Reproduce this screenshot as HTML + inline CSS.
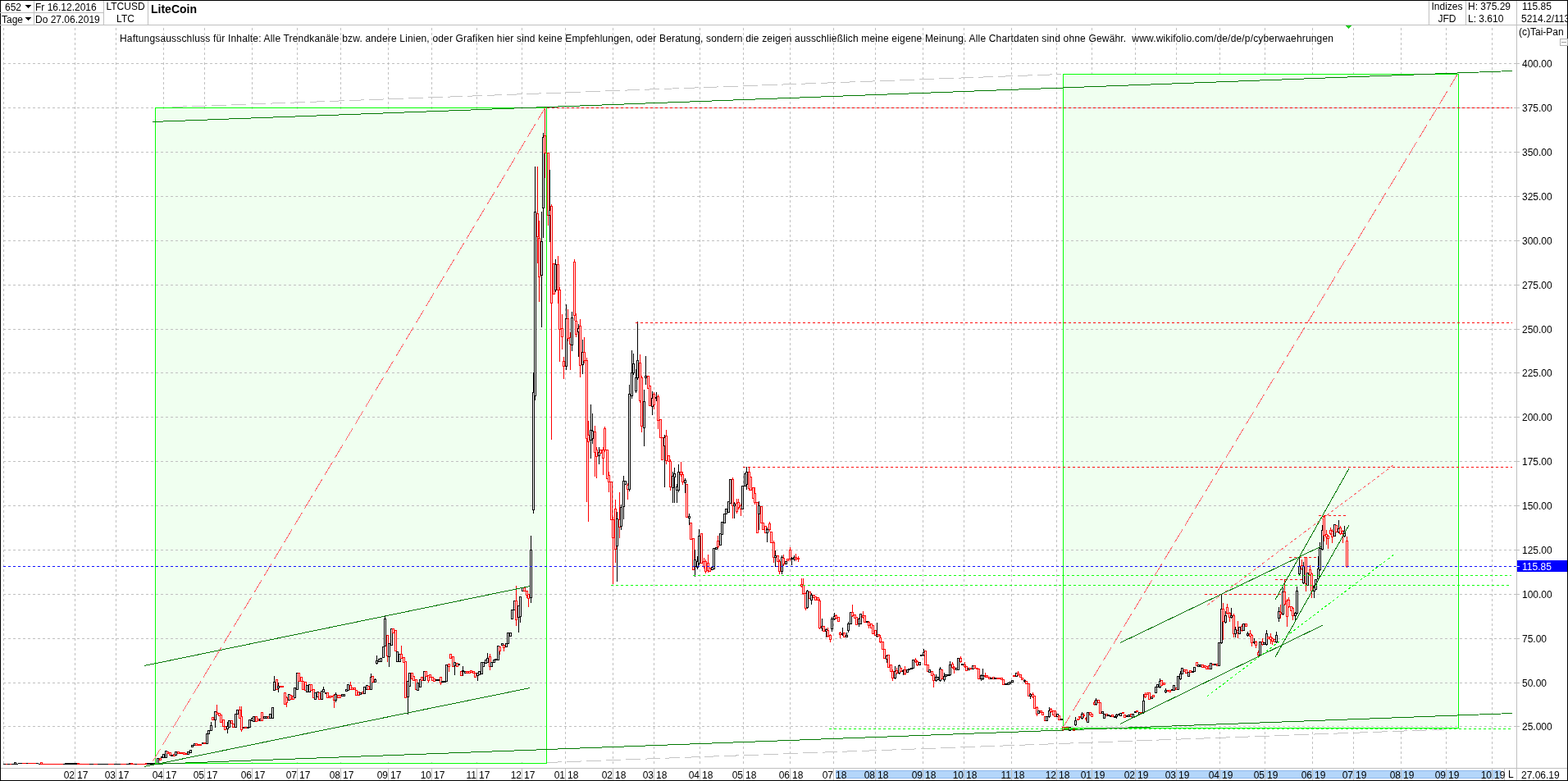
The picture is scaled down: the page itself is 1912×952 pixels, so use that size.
<!DOCTYPE html>
<html><head><meta charset="utf-8"><title>LiteCoin</title>
<style>html,body{margin:0;padding:0;background:#fff}#c{position:relative;width:1912px;height:952px;overflow:hidden;background:#fff}svg{position:absolute;left:0;top:0}text{font-family:"Liberation Sans", Arial, sans-serif}</style></head>
<body><div id="c"><svg width="1912" height="952" viewBox="0 0 1912 952">
<defs><clipPath id="hc"><rect x="1850" y="1" width="61" height="29"/></clipPath><clipPath id="chart"><rect x="1" y="31" width="1848" height="905"/></clipPath></defs>
<g clip-path="url(#chart)">
<g shape-rendering="crispEdges">
<line x1="4.5" y1="34" x2="4.5" y2="933" stroke="#c0c0c0" stroke-dasharray="3 3" stroke-dashoffset="0"/>
<line x1="91.5" y1="34" x2="91.5" y2="933" stroke="#c0c0c0" stroke-dasharray="3 3" stroke-dashoffset="0"/>
<line x1="141.5" y1="34" x2="141.5" y2="933" stroke="#c0c0c0" stroke-dasharray="3 3" stroke-dashoffset="0"/>
<line x1="199.5" y1="34" x2="199.5" y2="933" stroke="#c0c0c0" stroke-dasharray="3 3" stroke-dashoffset="0"/>
<line x1="249.5" y1="34" x2="249.5" y2="933" stroke="#c0c0c0" stroke-dasharray="3 3" stroke-dashoffset="0"/>
<line x1="307.5" y1="34" x2="307.5" y2="933" stroke="#c0c0c0" stroke-dasharray="3 3" stroke-dashoffset="0"/>
<line x1="362.5" y1="34" x2="362.5" y2="933" stroke="#c0c0c0" stroke-dasharray="3 3" stroke-dashoffset="0"/>
<line x1="415.5" y1="34" x2="415.5" y2="933" stroke="#c0c0c0" stroke-dasharray="3 3" stroke-dashoffset="0"/>
<line x1="473.5" y1="34" x2="473.5" y2="933" stroke="#c0c0c0" stroke-dasharray="3 3" stroke-dashoffset="0"/>
<line x1="526.5" y1="34" x2="526.5" y2="933" stroke="#c0c0c0" stroke-dasharray="3 3" stroke-dashoffset="0"/>
<line x1="581.5" y1="34" x2="581.5" y2="933" stroke="#c0c0c0" stroke-dasharray="3 3" stroke-dashoffset="0"/>
<line x1="636.5" y1="34" x2="636.5" y2="933" stroke="#c0c0c0" stroke-dasharray="3 3" stroke-dashoffset="0"/>
<line x1="689.5" y1="34" x2="689.5" y2="933" stroke="#c0c0c0" stroke-dasharray="3 3" stroke-dashoffset="0"/>
<line x1="747.5" y1="34" x2="747.5" y2="933" stroke="#c0c0c0" stroke-dasharray="3 3" stroke-dashoffset="0"/>
<line x1="797.5" y1="34" x2="797.5" y2="933" stroke="#c0c0c0" stroke-dasharray="3 3" stroke-dashoffset="0"/>
<line x1="853.5" y1="34" x2="853.5" y2="933" stroke="#c0c0c0" stroke-dasharray="3 3" stroke-dashoffset="0"/>
<line x1="906.5" y1="34" x2="906.5" y2="933" stroke="#c0c0c0" stroke-dasharray="3 3" stroke-dashoffset="0"/>
<line x1="963.5" y1="34" x2="963.5" y2="933" stroke="#c0c0c0" stroke-dasharray="3 3" stroke-dashoffset="0"/>
<line x1="1016.5" y1="34" x2="1016.5" y2="933" stroke="#c0c0c0" stroke-dasharray="3 3" stroke-dashoffset="0"/>
<line x1="1067.5" y1="34" x2="1067.5" y2="933" stroke="#c0c0c0" stroke-dasharray="3 3" stroke-dashoffset="0"/>
<line x1="1125.5" y1="34" x2="1125.5" y2="933" stroke="#c0c0c0" stroke-dasharray="3 3" stroke-dashoffset="0"/>
<line x1="1175.5" y1="34" x2="1175.5" y2="933" stroke="#c0c0c0" stroke-dasharray="3 3" stroke-dashoffset="0"/>
<line x1="1233.5" y1="34" x2="1233.5" y2="933" stroke="#c0c0c0" stroke-dasharray="3 3" stroke-dashoffset="0"/>
<line x1="1288.5" y1="34" x2="1288.5" y2="933" stroke="#c0c0c0" stroke-dasharray="3 3" stroke-dashoffset="0"/>
<line x1="1331.5" y1="34" x2="1331.5" y2="933" stroke="#c0c0c0" stroke-dasharray="3 3" stroke-dashoffset="0"/>
<line x1="1384.5" y1="34" x2="1384.5" y2="933" stroke="#c0c0c0" stroke-dasharray="3 3" stroke-dashoffset="0"/>
<line x1="1434.5" y1="34" x2="1434.5" y2="933" stroke="#c0c0c0" stroke-dasharray="3 3" stroke-dashoffset="0"/>
<line x1="1487.5" y1="34" x2="1487.5" y2="933" stroke="#c0c0c0" stroke-dasharray="3 3" stroke-dashoffset="0"/>
<line x1="1542.5" y1="34" x2="1542.5" y2="933" stroke="#c0c0c0" stroke-dasharray="3 3" stroke-dashoffset="0"/>
<line x1="1600.5" y1="34" x2="1600.5" y2="933" stroke="#c0c0c0" stroke-dasharray="3 3" stroke-dashoffset="0"/>
<line x1="1650.5" y1="34" x2="1650.5" y2="933" stroke="#c0c0c0" stroke-dasharray="3 3" stroke-dashoffset="0"/>
<line x1="1708.5" y1="34" x2="1708.5" y2="933" stroke="#c0c0c0" stroke-dasharray="3 3" stroke-dashoffset="0"/>
<line x1="1763.5" y1="34" x2="1763.5" y2="933" stroke="#c0c0c0" stroke-dasharray="3 3" stroke-dashoffset="0"/>
<line x1="1819.5" y1="34" x2="1819.5" y2="933" stroke="#c0c0c0" stroke-dasharray="3 3" stroke-dashoffset="0"/>
<rect x="191" y="133" width="474" height="796" fill="#f0fff0"/>
<rect x="1298" y="92" width="479" height="794" fill="#f0fff0"/>
<line x1="4" y1="77.5" x2="1849" y2="77.5" stroke="#c0c0c0" stroke-dasharray="3 3" stroke-dashoffset="0"/>
<line x1="4" y1="131.5" x2="1849" y2="131.5" stroke="#c0c0c0" stroke-dasharray="3 3" stroke-dashoffset="0"/>
<line x1="4" y1="185.5" x2="1849" y2="185.5" stroke="#c0c0c0" stroke-dasharray="3 3" stroke-dashoffset="0"/>
<line x1="4" y1="239.5" x2="1849" y2="239.5" stroke="#c0c0c0" stroke-dasharray="3 3" stroke-dashoffset="0"/>
<line x1="4" y1="293.5" x2="1849" y2="293.5" stroke="#c0c0c0" stroke-dasharray="3 3" stroke-dashoffset="0"/>
<line x1="4" y1="347.5" x2="1849" y2="347.5" stroke="#c0c0c0" stroke-dasharray="3 3" stroke-dashoffset="0"/>
<line x1="4" y1="401.5" x2="1849" y2="401.5" stroke="#c0c0c0" stroke-dasharray="3 3" stroke-dashoffset="0"/>
<line x1="4" y1="454.5" x2="1849" y2="454.5" stroke="#c0c0c0" stroke-dasharray="3 3" stroke-dashoffset="0"/>
<line x1="4" y1="508.5" x2="1849" y2="508.5" stroke="#c0c0c0" stroke-dasharray="3 3" stroke-dashoffset="0"/>
<line x1="4" y1="562.5" x2="1849" y2="562.5" stroke="#c0c0c0" stroke-dasharray="3 3" stroke-dashoffset="0"/>
<line x1="4" y1="616.5" x2="1849" y2="616.5" stroke="#c0c0c0" stroke-dasharray="3 3" stroke-dashoffset="0"/>
<line x1="4" y1="670.5" x2="1849" y2="670.5" stroke="#c0c0c0" stroke-dasharray="3 3" stroke-dashoffset="0"/>
<line x1="4" y1="724.5" x2="1849" y2="724.5" stroke="#c0c0c0" stroke-dasharray="3 3" stroke-dashoffset="0"/>
<line x1="4" y1="778.5" x2="1849" y2="778.5" stroke="#c0c0c0" stroke-dasharray="3 3" stroke-dashoffset="0"/>
<line x1="4" y1="832.5" x2="1849" y2="832.5" stroke="#c0c0c0" stroke-dasharray="3 3" stroke-dashoffset="0"/>
<line x1="4" y1="885.5" x2="1849" y2="885.5" stroke="#c0c0c0" stroke-dasharray="3 3" stroke-dashoffset="0"/>
</g>
<g shape-rendering="crispEdges" fill="#fff">
<line x1="4" y1="931.5" x2="7" y2="931.5" stroke="#000"/>
<line x1="7" y1="931.5" x2="10" y2="931.5" stroke="#f00"/>
<line x1="9" y1="931.5" x2="12" y2="931.5" stroke="#000"/>
<line x1="12" y1="931.5" x2="15" y2="931.5" stroke="#f00"/>
<line x1="14" y1="931.5" x2="17" y2="931.5" stroke="#000"/>
<rect x="17.5" y="929.5" width="2" height="2" stroke="#000"/>
<line x1="19" y1="931.5" x2="22" y2="931.5" stroke="#000"/>
<line x1="22" y1="930.5" x2="25" y2="930.5" stroke="#000"/>
<line x1="24" y1="930.5" x2="27" y2="930.5" stroke="#000"/>
<line x1="27" y1="930.5" x2="30" y2="930.5" stroke="#f00"/>
<line x1="29" y1="930.5" x2="32" y2="930.5" stroke="#f00"/>
<line x1="32" y1="930.5" x2="35" y2="930.5" stroke="#000"/>
<line x1="34" y1="930.5" x2="37" y2="930.5" stroke="#f00"/>
<line x1="37" y1="930.5" x2="40" y2="930.5" stroke="#f00"/>
<line x1="39" y1="930.5" x2="42" y2="930.5" stroke="#f00"/>
<line x1="42" y1="930.5" x2="45" y2="930.5" stroke="#f00"/>
<line x1="44" y1="930.5" x2="47" y2="930.5" stroke="#000"/>
<line x1="47" y1="931.5" x2="50" y2="931.5" stroke="#000"/>
<rect x="49.5" y="929.5" width="2" height="2" stroke="#f00"/>
<line x1="52" y1="931.5" x2="55" y2="931.5" stroke="#f00"/>
<line x1="54" y1="931.5" x2="57" y2="931.5" stroke="#f00"/>
<line x1="57" y1="931.5" x2="60" y2="931.5" stroke="#f00"/>
<line x1="59" y1="931.5" x2="62" y2="931.5" stroke="#f00"/>
<line x1="62" y1="931.5" x2="65" y2="931.5" stroke="#f00"/>
<line x1="64" y1="931.5" x2="67" y2="931.5" stroke="#f00"/>
<line x1="67" y1="931.5" x2="70" y2="931.5" stroke="#f00"/>
<line x1="69" y1="931.5" x2="72" y2="931.5" stroke="#f00"/>
<line x1="72" y1="931.5" x2="75" y2="931.5" stroke="#f00"/>
<line x1="74" y1="931.5" x2="77" y2="931.5" stroke="#f00"/>
<line x1="77" y1="931.5" x2="80" y2="931.5" stroke="#000"/>
<rect x="79.5" y="930.5" width="2" height="1" stroke="#000"/>
<rect x="82.5" y="930.5" width="2" height="1" stroke="#000"/>
<rect x="84.5" y="930.5" width="2" height="1" stroke="#000"/>
<rect x="87.5" y="930.5" width="2" height="1" stroke="#000"/>
<rect x="89.5" y="930.5" width="2" height="1" stroke="#000"/>
<rect x="92.5" y="930.5" width="2" height="1" stroke="#000"/>
<rect x="94.5" y="930.5" width="2" height="1" stroke="#f00"/>
<line x1="97" y1="931.5" x2="100" y2="931.5" stroke="#f00"/>
<line x1="99" y1="931.5" x2="102" y2="931.5" stroke="#f00"/>
<line x1="102" y1="931.5" x2="105" y2="931.5" stroke="#f00"/>
<line x1="104" y1="931.5" x2="107" y2="931.5" stroke="#f00"/>
<line x1="107" y1="931.5" x2="110" y2="931.5" stroke="#f00"/>
<line x1="109" y1="931.5" x2="112" y2="931.5" stroke="#000"/>
<line x1="112" y1="931.5" x2="115" y2="931.5" stroke="#000"/>
<line x1="114" y1="931.5" x2="117" y2="931.5" stroke="#f00"/>
<line x1="117" y1="931.5" x2="120" y2="931.5" stroke="#f00"/>
<line x1="119" y1="931.5" x2="122" y2="931.5" stroke="#000"/>
<line x1="122" y1="931.5" x2="125" y2="931.5" stroke="#000"/>
<line x1="124" y1="931.5" x2="127" y2="931.5" stroke="#000"/>
<line x1="127" y1="931.5" x2="130" y2="931.5" stroke="#000"/>
<line x1="129" y1="931.5" x2="132" y2="931.5" stroke="#000"/>
<line x1="132" y1="931.5" x2="135" y2="931.5" stroke="#f00"/>
<line x1="134" y1="931.5" x2="137" y2="931.5" stroke="#f00"/>
<line x1="137" y1="931.5" x2="140" y2="931.5" stroke="#f00"/>
<line x1="139" y1="931.5" x2="142" y2="931.5" stroke="#000"/>
<line x1="142" y1="931.5" x2="145" y2="931.5" stroke="#000"/>
<line x1="144" y1="931.5" x2="147" y2="931.5" stroke="#000"/>
<line x1="147" y1="931.5" x2="150" y2="931.5" stroke="#f00"/>
<line x1="149" y1="931.5" x2="152" y2="931.5" stroke="#f00"/>
<line x1="152" y1="931.5" x2="155" y2="931.5" stroke="#f00"/>
<line x1="154" y1="931.5" x2="157" y2="931.5" stroke="#000"/>
<rect x="157.5" y="930.5" width="2" height="1" stroke="#000"/>
<rect x="159.5" y="930.5" width="2" height="1" stroke="#f00"/>
<line x1="162" y1="931.5" x2="165" y2="931.5" stroke="#f00"/>
<line x1="164" y1="931.5" x2="167" y2="931.5" stroke="#000"/>
<line x1="167" y1="931.5" x2="170" y2="931.5" stroke="#f00"/>
<line x1="169" y1="931.5" x2="172" y2="931.5" stroke="#f00"/>
<line x1="172" y1="931.5" x2="175" y2="931.5" stroke="#f00"/>
<line x1="174" y1="931.5" x2="177" y2="931.5" stroke="#f00"/>
<rect x="177.5" y="930.5" width="2" height="1" stroke="#f00"/>
<rect x="179.5" y="930.5" width="2" height="1" stroke="#000"/>
<rect x="182.5" y="930.5" width="2" height="1" stroke="#000"/>
<rect x="184.5" y="930.5" width="2" height="1" stroke="#000"/>
<rect x="187.5" y="930.5" width="2" height="1" stroke="#000"/>
<rect x="191.5" y="924.5" width="2" height="6" stroke="#000"/>
<rect x="194.5" y="924.5" width="2" height="2" stroke="#f00"/>
<rect x="196.5" y="922.5" width="2" height="1" stroke="#000"/>
<rect x="198.5" y="919.5" width="2" height="4" stroke="#000"/>
<rect x="201.5" y="915.5" width="2" height="8" stroke="#000"/>
<rect x="203.5" y="916.5" width="2" height="2" stroke="#f00"/>
<rect x="206.5" y="917.5" width="2" height="3" stroke="#f00"/>
<rect x="208.5" y="920.5" width="2" height="1" stroke="#000"/>
<rect x="211.5" y="919.5" width="2" height="2" stroke="#f00"/>
<rect x="213.5" y="916.5" width="2" height="4" stroke="#000"/>
<rect x="216.5" y="916.5" width="2" height="2" stroke="#f00"/>
<rect x="218.5" y="917.5" width="2" height="1" stroke="#f00"/>
<rect x="221.5" y="917.5" width="2" height="1" stroke="#f00"/>
<rect x="223.5" y="917.5" width="2" height="2" stroke="#f00"/>
<rect x="226.5" y="918.5" width="2" height="1" stroke="#f00"/>
<rect x="228.5" y="916.5" width="2" height="3" stroke="#000"/>
<rect x="231.5" y="914.5" width="2" height="3" stroke="#000"/>
<rect x="233.5" y="908.5" width="2" height="2" stroke="#000"/>
<rect x="236.5" y="906.5" width="2" height="2" stroke="#000"/>
<rect x="238.5" y="906.5" width="2" height="2" stroke="#f00"/>
<rect x="241.5" y="907.5" width="2" height="1" stroke="#f00"/>
<rect x="243.5" y="907.5" width="2" height="1" stroke="#f00"/>
<rect x="246.5" y="905.5" width="2" height="1" stroke="#000"/>
<rect x="248.5" y="905.5" width="2" height="1" stroke="#f00"/>
<rect x="251.5" y="894.5" width="2" height="12" stroke="#000"/>
<rect x="253.5" y="890.5" width="2" height="4" stroke="#000"/>
<line x1="257.5" y1="880" x2="257.5" y2="884" stroke="#000"/>
<rect x="256.5" y="884.5" width="2" height="6" stroke="#000"/>
<rect x="258.5" y="874.5" width="2" height="3" stroke="#f00"/>
<line x1="262.5" y1="878" x2="262.5" y2="887" stroke="#000"/>
<rect x="261.5" y="867.5" width="2" height="10" stroke="#000"/>
<line x1="264.5" y1="859" x2="264.5" y2="868" stroke="#f00"/>
<rect x="263.5" y="868.5" width="2" height="2" stroke="#f00"/>
<rect x="266.5" y="869.5" width="2" height="3" stroke="#f00"/>
<rect x="268.5" y="871.5" width="2" height="9" stroke="#f00"/>
<rect x="271.5" y="877.5" width="2" height="8" stroke="#f00"/>
<rect x="273.5" y="885.5" width="2" height="4" stroke="#f00"/>
<line x1="277.5" y1="880" x2="277.5" y2="885" stroke="#000"/>
<line x1="277.5" y1="889" x2="277.5" y2="894" stroke="#000"/>
<rect x="276.5" y="885.5" width="2" height="3" stroke="#000"/>
<rect x="278.5" y="878.5" width="2" height="8" stroke="#000"/>
<rect x="281.5" y="878.5" width="2" height="3" stroke="#f00"/>
<rect x="283.5" y="882.5" width="2" height="4" stroke="#f00"/>
<rect x="286.5" y="870.5" width="2" height="16" stroke="#000"/>
<rect x="288.5" y="865.5" width="2" height="5" stroke="#000"/>
<line x1="292.5" y1="861" x2="292.5" y2="865" stroke="#f00"/>
<rect x="291.5" y="865.5" width="2" height="10" stroke="#f00"/>
<line x1="294.5" y1="861" x2="294.5" y2="873" stroke="#f00"/>
<line x1="294.5" y1="890" x2="294.5" y2="892" stroke="#f00"/>
<rect x="293.5" y="873.5" width="2" height="16" stroke="#f00"/>
<rect x="296.5" y="886.5" width="2" height="1" stroke="#000"/>
<rect x="298.5" y="886.5" width="2" height="1" stroke="#f00"/>
<rect x="301.5" y="886.5" width="2" height="1" stroke="#000"/>
<rect x="303.5" y="877.5" width="2" height="9" stroke="#000"/>
<rect x="306.5" y="875.5" width="2" height="3" stroke="#000"/>
<rect x="308.5" y="873.5" width="2" height="6" stroke="#000"/>
<rect x="311.5" y="873.5" width="2" height="6" stroke="#f00"/>
<rect x="313.5" y="876.5" width="2" height="2" stroke="#f00"/>
<rect x="316.5" y="876.5" width="2" height="2" stroke="#000"/>
<rect x="318.5" y="868.5" width="2" height="10" stroke="#f00"/>
<rect x="321.5" y="873.5" width="2" height="2" stroke="#000"/>
<rect x="323.5" y="873.5" width="2" height="2" stroke="#000"/>
<rect x="326.5" y="873.5" width="2" height="2" stroke="#f00"/>
<rect x="328.5" y="870.5" width="2" height="5" stroke="#000"/>
<rect x="331.5" y="862.5" width="2" height="13" stroke="#000"/>
<line x1="334.5" y1="824" x2="334.5" y2="831" stroke="#000"/>
<rect x="333.5" y="831.5" width="2" height="10" stroke="#000"/>
<rect x="336.5" y="828.5" width="2" height="12" stroke="#f00"/>
<line x1="339.5" y1="832" x2="339.5" y2="836" stroke="#000"/>
<line x1="339.5" y1="839" x2="339.5" y2="844" stroke="#000"/>
<rect x="338.5" y="836.5" width="2" height="2" stroke="#000"/>
<rect x="341.5" y="836.5" width="2" height="1" stroke="#f00"/>
<rect x="343.5" y="836.5" width="2" height="1" stroke="#f00"/>
<rect x="346.5" y="844.5" width="2" height="14" stroke="#f00"/>
<line x1="349.5" y1="849" x2="349.5" y2="850" stroke="#f00"/>
<line x1="349.5" y1="857" x2="349.5" y2="862" stroke="#f00"/>
<rect x="348.5" y="850.5" width="2" height="6" stroke="#f00"/>
<rect x="351.5" y="846.5" width="2" height="7" stroke="#000"/>
<rect x="353.5" y="847.5" width="2" height="5" stroke="#f00"/>
<rect x="356.5" y="848.5" width="2" height="4" stroke="#f00"/>
<rect x="358.5" y="838.5" width="2" height="12" stroke="#000"/>
<rect x="361.5" y="820.5" width="2" height="20" stroke="#000"/>
<rect x="363.5" y="820.5" width="2" height="10" stroke="#f00"/>
<rect x="366.5" y="825.5" width="2" height="5" stroke="#f00"/>
<rect x="368.5" y="830.5" width="2" height="10" stroke="#f00"/>
<rect x="371.5" y="831.5" width="2" height="10" stroke="#f00"/>
<rect x="373.5" y="835.5" width="2" height="8" stroke="#000"/>
<rect x="376.5" y="834.5" width="2" height="9" stroke="#000"/>
<rect x="378.5" y="834.5" width="2" height="7" stroke="#f00"/>
<rect x="381.5" y="840.5" width="2" height="10" stroke="#f00"/>
<rect x="383.5" y="844.5" width="2" height="8" stroke="#000"/>
<rect x="386.5" y="843.5" width="2" height="6" stroke="#000"/>
<rect x="388.5" y="844.5" width="2" height="8" stroke="#f00"/>
<rect x="391.5" y="842.5" width="2" height="10" stroke="#000"/>
<line x1="394.5" y1="837" x2="394.5" y2="840" stroke="#000"/>
<rect x="393.5" y="840.5" width="2" height="3" stroke="#000"/>
<rect x="396.5" y="844.5" width="2" height="1" stroke="#000"/>
<rect x="398.5" y="844.5" width="2" height="6" stroke="#f00"/>
<rect x="401.5" y="848.5" width="2" height="2" stroke="#f00"/>
<rect x="403.5" y="848.5" width="2" height="1" stroke="#f00"/>
<line x1="407.5" y1="846" x2="407.5" y2="847" stroke="#f00"/>
<line x1="407.5" y1="854" x2="407.5" y2="863" stroke="#f00"/>
<rect x="406.5" y="847.5" width="2" height="6" stroke="#f00"/>
<line x1="409.5" y1="844" x2="409.5" y2="846" stroke="#000"/>
<line x1="409.5" y1="854" x2="409.5" y2="856" stroke="#000"/>
<rect x="408.5" y="846.5" width="2" height="7" stroke="#000"/>
<rect x="411.5" y="847.5" width="2" height="3" stroke="#f00"/>
<rect x="413.5" y="847.5" width="2" height="3" stroke="#f00"/>
<rect x="416.5" y="846.5" width="2" height="2" stroke="#000"/>
<rect x="418.5" y="846.5" width="2" height="2" stroke="#000"/>
<rect x="421.5" y="840.5" width="2" height="2" stroke="#000"/>
<rect x="423.5" y="834.5" width="2" height="7" stroke="#000"/>
<line x1="427.5" y1="831" x2="427.5" y2="835" stroke="#f00"/>
<rect x="426.5" y="835.5" width="2" height="5" stroke="#f00"/>
<rect x="428.5" y="838.5" width="2" height="2" stroke="#f00"/>
<rect x="431.5" y="838.5" width="2" height="2" stroke="#f00"/>
<rect x="433.5" y="841.5" width="2" height="6" stroke="#f00"/>
<rect x="436.5" y="843.5" width="2" height="4" stroke="#f00"/>
<rect x="438.5" y="844.5" width="2" height="2" stroke="#000"/>
<rect x="441.5" y="843.5" width="2" height="2" stroke="#f00"/>
<rect x="443.5" y="837.5" width="2" height="8" stroke="#000"/>
<rect x="446.5" y="835.5" width="2" height="5" stroke="#000"/>
<rect x="448.5" y="836.5" width="2" height="4" stroke="#f00"/>
<line x1="452.5" y1="821" x2="452.5" y2="825" stroke="#000"/>
<rect x="451.5" y="825.5" width="2" height="15" stroke="#000"/>
<rect x="453.5" y="824.5" width="2" height="7" stroke="#f00"/>
<line x1="457.5" y1="827" x2="457.5" y2="828" stroke="#000"/>
<rect x="456.5" y="828.5" width="2" height="3" stroke="#000"/>
<line x1="459.5" y1="799" x2="459.5" y2="805" stroke="#000"/>
<line x1="459.5" y1="809" x2="459.5" y2="810" stroke="#000"/>
<rect x="458.5" y="805.5" width="2" height="3" stroke="#000"/>
<rect x="461.5" y="803.5" width="2" height="3" stroke="#000"/>
<rect x="463.5" y="802.5" width="2" height="4" stroke="#000"/>
<rect x="466.5" y="788.5" width="2" height="13" stroke="#000"/>
<line x1="469.5" y1="750" x2="469.5" y2="754" stroke="#000"/>
<rect x="468.5" y="754.5" width="2" height="33" stroke="#000"/>
<line x1="472.5" y1="800" x2="472.5" y2="807" stroke="#f00"/>
<rect x="471.5" y="774.5" width="2" height="25" stroke="#f00"/>
<line x1="474.5" y1="801" x2="474.5" y2="813" stroke="#000"/>
<rect x="473.5" y="784.5" width="2" height="16" stroke="#000"/>
<rect x="476.5" y="766.5" width="2" height="20" stroke="#000"/>
<rect x="478.5" y="766.5" width="2" height="5" stroke="#f00"/>
<rect x="481.5" y="768.5" width="2" height="25" stroke="#f00"/>
<rect x="483.5" y="794.5" width="2" height="12" stroke="#000"/>
<rect x="486.5" y="797.5" width="2" height="9" stroke="#000"/>
<line x1="489.5" y1="787" x2="489.5" y2="797" stroke="#f00"/>
<rect x="488.5" y="797.5" width="2" height="5" stroke="#f00"/>
<rect x="491.5" y="801.5" width="2" height="6" stroke="#f00"/>
<rect x="493.5" y="806.5" width="2" height="44" stroke="#f00"/>
<line x1="497.5" y1="850" x2="497.5" y2="871" stroke="#000"/>
<rect x="496.5" y="830.5" width="2" height="19" stroke="#000"/>
<rect x="498.5" y="820.5" width="2" height="16" stroke="#000"/>
<rect x="501.5" y="820.5" width="2" height="7" stroke="#f00"/>
<rect x="503.5" y="824.5" width="2" height="5" stroke="#f00"/>
<rect x="506.5" y="828.5" width="2" height="12" stroke="#f00"/>
<rect x="508.5" y="832.5" width="2" height="9" stroke="#000"/>
<rect x="511.5" y="828.5" width="2" height="9" stroke="#000"/>
<rect x="513.5" y="825.5" width="2" height="4" stroke="#f00"/>
<rect x="516.5" y="818.5" width="2" height="11" stroke="#000"/>
<rect x="518.5" y="818.5" width="2" height="6" stroke="#f00"/>
<line x1="522.5" y1="830" x2="522.5" y2="832" stroke="#f00"/>
<rect x="521.5" y="823.5" width="2" height="6" stroke="#f00"/>
<rect x="523.5" y="822.5" width="2" height="3" stroke="#f00"/>
<rect x="526.5" y="825.5" width="2" height="4" stroke="#f00"/>
<rect x="528.5" y="827.5" width="2" height="3" stroke="#f00"/>
<rect x="531.5" y="828.5" width="2" height="1" stroke="#000"/>
<rect x="533.5" y="828.5" width="2" height="1" stroke="#000"/>
<line x1="537.5" y1="833" x2="537.5" y2="835" stroke="#f00"/>
<rect x="536.5" y="825.5" width="2" height="7" stroke="#f00"/>
<rect x="538.5" y="830.5" width="2" height="1" stroke="#000"/>
<rect x="541.5" y="830.5" width="2" height="1" stroke="#000"/>
<rect x="543.5" y="810.5" width="2" height="20" stroke="#000"/>
<line x1="547.5" y1="813" x2="547.5" y2="819" stroke="#f00"/>
<rect x="546.5" y="809.5" width="2" height="3" stroke="#f00"/>
<rect x="548.5" y="797.5" width="2" height="5" stroke="#f00"/>
<rect x="551.5" y="800.5" width="2" height="12" stroke="#f00"/>
<line x1="554.5" y1="812" x2="554.5" y2="823" stroke="#000"/>
<rect x="553.5" y="807.5" width="2" height="4" stroke="#000"/>
<rect x="556.5" y="808.5" width="2" height="4" stroke="#f00"/>
<rect x="558.5" y="809.5" width="2" height="1" stroke="#000"/>
<rect x="561.5" y="818.5" width="2" height="5" stroke="#f00"/>
<line x1="564.5" y1="812" x2="564.5" y2="817" stroke="#000"/>
<line x1="564.5" y1="819" x2="564.5" y2="824" stroke="#000"/>
<rect x="563.5" y="817.5" width="2" height="1" stroke="#000"/>
<rect x="566.5" y="818.5" width="2" height="2" stroke="#000"/>
<rect x="568.5" y="818.5" width="2" height="2" stroke="#f00"/>
<rect x="571.5" y="818.5" width="2" height="2" stroke="#f00"/>
<rect x="573.5" y="817.5" width="2" height="2" stroke="#f00"/>
<rect x="576.5" y="818.5" width="2" height="2" stroke="#f00"/>
<rect x="578.5" y="820.5" width="2" height="5" stroke="#f00"/>
<line x1="582.5" y1="824" x2="582.5" y2="830" stroke="#000"/>
<rect x="581.5" y="820.5" width="2" height="3" stroke="#000"/>
<rect x="583.5" y="818.5" width="2" height="4" stroke="#000"/>
<rect x="586.5" y="807.5" width="2" height="14" stroke="#000"/>
<rect x="588.5" y="807.5" width="2" height="5" stroke="#000"/>
<rect x="591.5" y="804.5" width="2" height="4" stroke="#000"/>
<line x1="594.5" y1="796" x2="594.5" y2="802" stroke="#000"/>
<rect x="593.5" y="802.5" width="2" height="5" stroke="#000"/>
<line x1="597.5" y1="797" x2="597.5" y2="800" stroke="#f00"/>
<line x1="597.5" y1="813" x2="597.5" y2="817" stroke="#f00"/>
<rect x="596.5" y="800.5" width="2" height="12" stroke="#f00"/>
<rect x="598.5" y="807.5" width="2" height="5" stroke="#000"/>
<rect x="601.5" y="804.5" width="2" height="3" stroke="#000"/>
<rect x="603.5" y="803.5" width="2" height="1" stroke="#000"/>
<rect x="606.5" y="787.5" width="2" height="17" stroke="#000"/>
<line x1="609.5" y1="794" x2="609.5" y2="798" stroke="#f00"/>
<rect x="608.5" y="788.5" width="2" height="5" stroke="#f00"/>
<rect x="611.5" y="784.5" width="2" height="2" stroke="#000"/>
<line x1="614.5" y1="790" x2="614.5" y2="794" stroke="#f00"/>
<rect x="613.5" y="786.5" width="2" height="3" stroke="#f00"/>
<rect x="616.5" y="784.5" width="2" height="4" stroke="#000"/>
<rect x="618.5" y="771.5" width="2" height="13" stroke="#000"/>
<rect x="621.5" y="771.5" width="2" height="4" stroke="#000"/>
<rect x="623.5" y="743.5" width="2" height="11" stroke="#000"/>
<rect x="626.5" y="732.5" width="2" height="11" stroke="#000"/>
<line x1="629.5" y1="714" x2="629.5" y2="732" stroke="#f00"/>
<line x1="629.5" y1="756" x2="629.5" y2="763" stroke="#f00"/>
<rect x="628.5" y="732.5" width="2" height="23" stroke="#f00"/>
<line x1="632.5" y1="753" x2="632.5" y2="771" stroke="#000"/>
<rect x="631.5" y="738.5" width="2" height="14" stroke="#000"/>
<line x1="634.5" y1="752" x2="634.5" y2="759" stroke="#000"/>
<rect x="633.5" y="727.5" width="2" height="24" stroke="#000"/>
<rect x="636.5" y="716.5" width="2" height="4" stroke="#000"/>
<rect x="638.5" y="716.5" width="2" height="4" stroke="#f00"/>
<line x1="642.5" y1="726" x2="642.5" y2="729" stroke="#f00"/>
<rect x="641.5" y="720.5" width="2" height="5" stroke="#f00"/>
<line x1="644.5" y1="730" x2="644.5" y2="740" stroke="#f00"/>
<rect x="643.5" y="724.5" width="2" height="5" stroke="#f00"/>
<line x1="647.5" y1="653" x2="647.5" y2="670" stroke="#000"/>
<line x1="647.5" y1="729" x2="647.5" y2="735" stroke="#000"/>
<rect x="646.5" y="670.5" width="2" height="58" stroke="#000"/>
<line x1="650.5" y1="454" x2="650.5" y2="478" stroke="#000"/>
<line x1="650.5" y1="622" x2="650.5" y2="626" stroke="#000"/>
<rect x="649.5" y="478.5" width="2" height="143" stroke="#000"/>
<line x1="652.5" y1="203" x2="652.5" y2="258" stroke="#000"/>
<line x1="652.5" y1="483" x2="652.5" y2="488" stroke="#000"/>
<rect x="651.5" y="258.5" width="2" height="224" stroke="#000"/>
<line x1="655.5" y1="203" x2="655.5" y2="260" stroke="#f00"/>
<line x1="655.5" y1="289" x2="655.5" y2="321" stroke="#f00"/>
<rect x="654.5" y="260.5" width="2" height="28" stroke="#f00"/>
<line x1="657.5" y1="269" x2="657.5" y2="290" stroke="#f00"/>
<line x1="657.5" y1="338" x2="657.5" y2="368" stroke="#f00"/>
<rect x="656.5" y="290.5" width="2" height="47" stroke="#f00"/>
<line x1="660.5" y1="258" x2="660.5" y2="294" stroke="#000"/>
<line x1="660.5" y1="336" x2="660.5" y2="399" stroke="#000"/>
<rect x="659.5" y="294.5" width="2" height="41" stroke="#000"/>
<line x1="662.5" y1="162" x2="662.5" y2="167" stroke="#000"/>
<line x1="662.5" y1="254" x2="662.5" y2="290" stroke="#000"/>
<rect x="661.5" y="167.5" width="2" height="86" stroke="#000"/>
<line x1="664.5" y1="131" x2="664.5" y2="165" stroke="#f00"/>
<line x1="664.5" y1="187" x2="664.5" y2="217" stroke="#f00"/>
<rect x="663.5" y="165.5" width="2" height="21" stroke="#f00"/>
<line x1="668.5" y1="263" x2="668.5" y2="275" stroke="#f00"/>
<rect x="667.5" y="186.5" width="2" height="76" stroke="#f00"/>
<line x1="670.5" y1="207" x2="670.5" y2="256" stroke="#000"/>
<line x1="670.5" y1="263" x2="670.5" y2="295" stroke="#000"/>
<rect x="669.5" y="256.5" width="2" height="6" stroke="#000"/>
<line x1="672.5" y1="249" x2="672.5" y2="251" stroke="#f00"/>
<line x1="672.5" y1="370" x2="672.5" y2="536" stroke="#f00"/>
<rect x="671.5" y="251.5" width="2" height="118" stroke="#f00"/>
<rect x="674.5" y="321.5" width="2" height="37" stroke="#f00"/>
<line x1="677.5" y1="316" x2="677.5" y2="322" stroke="#000"/>
<line x1="677.5" y1="354" x2="677.5" y2="356" stroke="#000"/>
<rect x="676.5" y="322.5" width="2" height="31" stroke="#000"/>
<line x1="680.5" y1="312" x2="680.5" y2="322" stroke="#f00"/>
<line x1="680.5" y1="354" x2="680.5" y2="370" stroke="#f00"/>
<rect x="679.5" y="322.5" width="2" height="31" stroke="#f00"/>
<line x1="682.5" y1="350" x2="682.5" y2="353" stroke="#f00"/>
<line x1="682.5" y1="402" x2="682.5" y2="441" stroke="#f00"/>
<rect x="681.5" y="353.5" width="2" height="48" stroke="#f00"/>
<line x1="685.5" y1="383" x2="685.5" y2="400" stroke="#f00"/>
<line x1="685.5" y1="411" x2="685.5" y2="426" stroke="#f00"/>
<rect x="684.5" y="400.5" width="2" height="10" stroke="#f00"/>
<line x1="687.5" y1="435" x2="687.5" y2="440" stroke="#f00"/>
<line x1="687.5" y1="447" x2="687.5" y2="462" stroke="#f00"/>
<rect x="686.5" y="440.5" width="2" height="6" stroke="#f00"/>
<line x1="690.5" y1="371" x2="690.5" y2="388" stroke="#000"/>
<line x1="690.5" y1="447" x2="690.5" y2="451" stroke="#000"/>
<rect x="689.5" y="388.5" width="2" height="58" stroke="#000"/>
<line x1="692.5" y1="377" x2="692.5" y2="388" stroke="#f00"/>
<line x1="692.5" y1="413" x2="692.5" y2="416" stroke="#f00"/>
<rect x="691.5" y="388.5" width="2" height="24" stroke="#f00"/>
<line x1="695.5" y1="405" x2="695.5" y2="411" stroke="#f00"/>
<line x1="695.5" y1="420" x2="695.5" y2="451" stroke="#f00"/>
<rect x="694.5" y="411.5" width="2" height="8" stroke="#f00"/>
<line x1="697.5" y1="380" x2="697.5" y2="387" stroke="#000"/>
<line x1="697.5" y1="421" x2="697.5" y2="428" stroke="#000"/>
<rect x="696.5" y="387.5" width="2" height="33" stroke="#000"/>
<line x1="700.5" y1="316" x2="700.5" y2="319" stroke="#f00"/>
<line x1="700.5" y1="385" x2="700.5" y2="391" stroke="#f00"/>
<rect x="699.5" y="319.5" width="2" height="65" stroke="#f00"/>
<line x1="702.5" y1="382" x2="702.5" y2="391" stroke="#f00"/>
<line x1="702.5" y1="408" x2="702.5" y2="411" stroke="#f00"/>
<rect x="701.5" y="391.5" width="2" height="16" stroke="#f00"/>
<line x1="705.5" y1="395" x2="705.5" y2="400" stroke="#000"/>
<line x1="705.5" y1="405" x2="705.5" y2="435" stroke="#000"/>
<rect x="704.5" y="400.5" width="2" height="4" stroke="#000"/>
<line x1="707.5" y1="389" x2="707.5" y2="397" stroke="#f00"/>
<line x1="707.5" y1="446" x2="707.5" y2="460" stroke="#f00"/>
<rect x="706.5" y="397.5" width="2" height="48" stroke="#f00"/>
<line x1="710.5" y1="414" x2="710.5" y2="429" stroke="#000"/>
<line x1="710.5" y1="445" x2="710.5" y2="456" stroke="#000"/>
<rect x="709.5" y="429.5" width="2" height="15" stroke="#000"/>
<line x1="712.5" y1="411" x2="712.5" y2="429" stroke="#f00"/>
<line x1="712.5" y1="440" x2="712.5" y2="443" stroke="#f00"/>
<rect x="711.5" y="429.5" width="2" height="10" stroke="#f00"/>
<line x1="715.5" y1="436" x2="715.5" y2="439" stroke="#f00"/>
<line x1="715.5" y1="535" x2="715.5" y2="612" stroke="#f00"/>
<rect x="714.5" y="439.5" width="2" height="95" stroke="#f00"/>
<line x1="717.5" y1="513" x2="717.5" y2="530" stroke="#f00"/>
<line x1="717.5" y1="539" x2="717.5" y2="636" stroke="#f00"/>
<rect x="716.5" y="530.5" width="2" height="8" stroke="#f00"/>
<line x1="720.5" y1="493" x2="720.5" y2="524" stroke="#000"/>
<line x1="720.5" y1="537" x2="720.5" y2="559" stroke="#000"/>
<rect x="719.5" y="524.5" width="2" height="12" stroke="#000"/>
<line x1="722.5" y1="504" x2="722.5" y2="525" stroke="#000"/>
<line x1="722.5" y1="535" x2="722.5" y2="541" stroke="#000"/>
<rect x="721.5" y="525.5" width="2" height="9" stroke="#000"/>
<line x1="725.5" y1="519" x2="725.5" y2="526" stroke="#f00"/>
<line x1="725.5" y1="552" x2="725.5" y2="581" stroke="#f00"/>
<rect x="724.5" y="526.5" width="2" height="25" stroke="#f00"/>
<line x1="727.5" y1="545" x2="727.5" y2="548" stroke="#f00"/>
<line x1="727.5" y1="557" x2="727.5" y2="583" stroke="#f00"/>
<rect x="726.5" y="548.5" width="2" height="8" stroke="#f00"/>
<line x1="730.5" y1="545" x2="730.5" y2="551" stroke="#000"/>
<line x1="730.5" y1="556" x2="730.5" y2="566" stroke="#000"/>
<rect x="729.5" y="551.5" width="2" height="4" stroke="#000"/>
<rect x="731.5" y="548.5" width="2" height="4" stroke="#f00"/>
<line x1="735.5" y1="545" x2="735.5" y2="548" stroke="#f00"/>
<line x1="735.5" y1="559" x2="735.5" y2="579" stroke="#f00"/>
<rect x="734.5" y="548.5" width="2" height="10" stroke="#f00"/>
<line x1="737.5" y1="520" x2="737.5" y2="522" stroke="#f00"/>
<line x1="737.5" y1="549" x2="737.5" y2="551" stroke="#f00"/>
<rect x="736.5" y="522.5" width="2" height="26" stroke="#f00"/>
<rect x="739.5" y="548.5" width="2" height="35" stroke="#f00"/>
<line x1="742.5" y1="575" x2="742.5" y2="579" stroke="#f00"/>
<line x1="742.5" y1="588" x2="742.5" y2="600" stroke="#f00"/>
<rect x="741.5" y="579.5" width="2" height="8" stroke="#f00"/>
<rect x="744.5" y="587.5" width="2" height="46" stroke="#f00"/>
<line x1="747.5" y1="630" x2="747.5" y2="633" stroke="#f00"/>
<line x1="747.5" y1="656" x2="747.5" y2="712" stroke="#f00"/>
<rect x="746.5" y="633.5" width="2" height="22" stroke="#f00"/>
<line x1="750.5" y1="609" x2="750.5" y2="620" stroke="#f00"/>
<line x1="750.5" y1="670" x2="750.5" y2="686" stroke="#f00"/>
<rect x="749.5" y="620.5" width="2" height="49" stroke="#f00"/>
<line x1="752.5" y1="624" x2="752.5" y2="632" stroke="#000"/>
<line x1="752.5" y1="666" x2="752.5" y2="709" stroke="#000"/>
<rect x="751.5" y="632.5" width="2" height="33" stroke="#000"/>
<line x1="755.5" y1="600" x2="755.5" y2="633" stroke="#f00"/>
<line x1="755.5" y1="643" x2="755.5" y2="656" stroke="#f00"/>
<rect x="754.5" y="633.5" width="2" height="9" stroke="#f00"/>
<line x1="757.5" y1="615" x2="757.5" y2="618" stroke="#000"/>
<line x1="757.5" y1="642" x2="757.5" y2="646" stroke="#000"/>
<rect x="756.5" y="618.5" width="2" height="23" stroke="#000"/>
<line x1="760.5" y1="580" x2="760.5" y2="586" stroke="#000"/>
<line x1="760.5" y1="618" x2="760.5" y2="633" stroke="#000"/>
<rect x="759.5" y="586.5" width="2" height="31" stroke="#000"/>
<rect x="761.5" y="586.5" width="2" height="4" stroke="#000"/>
<line x1="765.5" y1="589" x2="765.5" y2="591" stroke="#f00"/>
<line x1="765.5" y1="597" x2="765.5" y2="609" stroke="#f00"/>
<rect x="764.5" y="591.5" width="2" height="5" stroke="#f00"/>
<line x1="767.5" y1="469" x2="767.5" y2="480" stroke="#000"/>
<line x1="767.5" y1="597" x2="767.5" y2="599" stroke="#000"/>
<rect x="766.5" y="480.5" width="2" height="116" stroke="#000"/>
<line x1="770.5" y1="427" x2="770.5" y2="454" stroke="#000"/>
<line x1="770.5" y1="483" x2="770.5" y2="486" stroke="#000"/>
<rect x="769.5" y="454.5" width="2" height="28" stroke="#000"/>
<line x1="772.5" y1="431" x2="772.5" y2="443" stroke="#000"/>
<line x1="772.5" y1="455" x2="772.5" y2="457" stroke="#000"/>
<rect x="771.5" y="443.5" width="2" height="11" stroke="#000"/>
<line x1="775.5" y1="450" x2="775.5" y2="460" stroke="#000"/>
<line x1="775.5" y1="477" x2="775.5" y2="479" stroke="#000"/>
<rect x="774.5" y="460.5" width="2" height="16" stroke="#000"/>
<line x1="777.5" y1="392" x2="777.5" y2="439" stroke="#000"/>
<line x1="777.5" y1="461" x2="777.5" y2="463" stroke="#000"/>
<rect x="776.5" y="439.5" width="2" height="21" stroke="#000"/>
<line x1="780.5" y1="432" x2="780.5" y2="442" stroke="#f00"/>
<line x1="780.5" y1="489" x2="780.5" y2="491" stroke="#f00"/>
<rect x="779.5" y="442.5" width="2" height="46" stroke="#f00"/>
<line x1="782.5" y1="458" x2="782.5" y2="460" stroke="#f00"/>
<line x1="782.5" y1="520" x2="782.5" y2="527" stroke="#f00"/>
<rect x="781.5" y="460.5" width="2" height="59" stroke="#f00"/>
<line x1="785.5" y1="475" x2="785.5" y2="489" stroke="#000"/>
<line x1="785.5" y1="522" x2="785.5" y2="544" stroke="#000"/>
<rect x="784.5" y="489.5" width="2" height="32" stroke="#000"/>
<line x1="787.5" y1="434" x2="787.5" y2="458" stroke="#000"/>
<line x1="787.5" y1="461" x2="787.5" y2="469" stroke="#000"/>
<rect x="786.5" y="458.5" width="2" height="2" stroke="#000"/>
<rect x="789.5" y="458.5" width="2" height="15" stroke="#f00"/>
<rect x="791.5" y="470.5" width="2" height="24" stroke="#f00"/>
<line x1="795.5" y1="477" x2="795.5" y2="485" stroke="#000"/>
<line x1="795.5" y1="496" x2="795.5" y2="506" stroke="#000"/>
<rect x="794.5" y="485.5" width="2" height="10" stroke="#000"/>
<line x1="797.5" y1="478" x2="797.5" y2="480" stroke="#f00"/>
<line x1="797.5" y1="494" x2="797.5" y2="499" stroke="#f00"/>
<rect x="796.5" y="480.5" width="2" height="13" stroke="#f00"/>
<line x1="800.5" y1="478" x2="800.5" y2="484" stroke="#000"/>
<line x1="800.5" y1="486" x2="800.5" y2="489" stroke="#000"/>
<rect x="799.5" y="484.5" width="2" height="1" stroke="#000"/>
<line x1="802.5" y1="481" x2="802.5" y2="483" stroke="#f00"/>
<line x1="802.5" y1="513" x2="802.5" y2="523" stroke="#f00"/>
<rect x="801.5" y="483.5" width="2" height="29" stroke="#f00"/>
<rect x="804.5" y="511.5" width="2" height="22" stroke="#f00"/>
<rect x="806.5" y="533.5" width="2" height="27" stroke="#f00"/>
<line x1="810.5" y1="530" x2="810.5" y2="533" stroke="#000"/>
<line x1="810.5" y1="544" x2="810.5" y2="594" stroke="#000"/>
<rect x="809.5" y="533.5" width="2" height="10" stroke="#000"/>
<line x1="812.5" y1="524" x2="812.5" y2="531" stroke="#f00"/>
<line x1="812.5" y1="562" x2="812.5" y2="566" stroke="#f00"/>
<rect x="811.5" y="531.5" width="2" height="30" stroke="#f00"/>
<rect x="814.5" y="555.5" width="2" height="7" stroke="#f00"/>
<line x1="817.5" y1="560" x2="817.5" y2="562" stroke="#f00"/>
<line x1="817.5" y1="594" x2="817.5" y2="598" stroke="#f00"/>
<rect x="816.5" y="562.5" width="2" height="31" stroke="#f00"/>
<line x1="820.5" y1="575" x2="820.5" y2="580" stroke="#000"/>
<line x1="820.5" y1="595" x2="820.5" y2="613" stroke="#000"/>
<rect x="819.5" y="580.5" width="2" height="14" stroke="#000"/>
<line x1="822.5" y1="570" x2="822.5" y2="577" stroke="#000"/>
<line x1="822.5" y1="582" x2="822.5" y2="613" stroke="#000"/>
<rect x="821.5" y="577.5" width="2" height="4" stroke="#000"/>
<line x1="825.5" y1="590" x2="825.5" y2="593" stroke="#000"/>
<line x1="825.5" y1="598" x2="825.5" y2="613" stroke="#000"/>
<rect x="824.5" y="593.5" width="2" height="4" stroke="#000"/>
<line x1="827.5" y1="566" x2="827.5" y2="575" stroke="#000"/>
<line x1="827.5" y1="598" x2="827.5" y2="600" stroke="#000"/>
<rect x="826.5" y="575.5" width="2" height="22" stroke="#000"/>
<line x1="830.5" y1="563" x2="830.5" y2="575" stroke="#f00"/>
<line x1="830.5" y1="579" x2="830.5" y2="581" stroke="#f00"/>
<rect x="829.5" y="575.5" width="2" height="3" stroke="#f00"/>
<line x1="832.5" y1="575" x2="832.5" y2="578" stroke="#f00"/>
<line x1="832.5" y1="588" x2="832.5" y2="591" stroke="#f00"/>
<rect x="831.5" y="578.5" width="2" height="9" stroke="#f00"/>
<line x1="835.5" y1="583" x2="835.5" y2="585" stroke="#000"/>
<line x1="835.5" y1="589" x2="835.5" y2="601" stroke="#000"/>
<rect x="834.5" y="585.5" width="2" height="3" stroke="#000"/>
<rect x="836.5" y="590.5" width="2" height="40" stroke="#f00"/>
<line x1="840.5" y1="626" x2="840.5" y2="629" stroke="#000"/>
<line x1="840.5" y1="632" x2="840.5" y2="640" stroke="#000"/>
<rect x="839.5" y="629.5" width="2" height="2" stroke="#000"/>
<rect x="841.5" y="637.5" width="2" height="20" stroke="#f00"/>
<rect x="844.5" y="656.5" width="2" height="38" stroke="#f00"/>
<line x1="847.5" y1="670" x2="847.5" y2="682" stroke="#000"/>
<line x1="847.5" y1="691" x2="847.5" y2="703" stroke="#000"/>
<rect x="846.5" y="682.5" width="2" height="8" stroke="#000"/>
<line x1="850.5" y1="678" x2="850.5" y2="684" stroke="#000"/>
<line x1="850.5" y1="692" x2="850.5" y2="694" stroke="#000"/>
<rect x="849.5" y="684.5" width="2" height="7" stroke="#000"/>
<line x1="852.5" y1="645" x2="852.5" y2="653" stroke="#000"/>
<line x1="852.5" y1="687" x2="852.5" y2="689" stroke="#000"/>
<rect x="851.5" y="653.5" width="2" height="33" stroke="#000"/>
<rect x="854.5" y="650.5" width="2" height="36" stroke="#f00"/>
<line x1="858.5" y1="680" x2="858.5" y2="684" stroke="#f00"/>
<line x1="858.5" y1="691" x2="858.5" y2="693" stroke="#f00"/>
<rect x="857.5" y="684.5" width="2" height="6" stroke="#f00"/>
<line x1="860.5" y1="682" x2="860.5" y2="684" stroke="#f00"/>
<line x1="860.5" y1="697" x2="860.5" y2="699" stroke="#f00"/>
<rect x="859.5" y="684.5" width="2" height="12" stroke="#f00"/>
<line x1="863.5" y1="676" x2="863.5" y2="686" stroke="#f00"/>
<line x1="863.5" y1="696" x2="863.5" y2="698" stroke="#f00"/>
<rect x="862.5" y="686.5" width="2" height="9" stroke="#f00"/>
<rect x="864.5" y="692.5" width="2" height="4" stroke="#f00"/>
<rect x="867.5" y="691.5" width="2" height="3" stroke="#000"/>
<rect x="869.5" y="668.5" width="2" height="25" stroke="#000"/>
<rect x="872.5" y="667.5" width="2" height="2" stroke="#000"/>
<line x1="875.5" y1="653" x2="875.5" y2="659" stroke="#f00"/>
<line x1="875.5" y1="667" x2="875.5" y2="669" stroke="#f00"/>
<rect x="874.5" y="659.5" width="2" height="7" stroke="#f00"/>
<rect x="877.5" y="650.5" width="2" height="14" stroke="#000"/>
<rect x="879.5" y="636.5" width="2" height="15" stroke="#000"/>
<rect x="882.5" y="626.5" width="2" height="11" stroke="#000"/>
<rect x="884.5" y="620.5" width="2" height="6" stroke="#000"/>
<rect x="887.5" y="611.5" width="2" height="13" stroke="#000"/>
<rect x="889.5" y="584.5" width="2" height="29" stroke="#000"/>
<line x1="893.5" y1="582" x2="893.5" y2="584" stroke="#f00"/>
<line x1="893.5" y1="617" x2="893.5" y2="632" stroke="#f00"/>
<rect x="892.5" y="584.5" width="2" height="32" stroke="#f00"/>
<line x1="895.5" y1="612" x2="895.5" y2="614" stroke="#000"/>
<line x1="895.5" y1="617" x2="895.5" y2="632" stroke="#000"/>
<rect x="894.5" y="614.5" width="2" height="2" stroke="#000"/>
<line x1="898.5" y1="608" x2="898.5" y2="613" stroke="#f00"/>
<line x1="898.5" y1="624" x2="898.5" y2="626" stroke="#f00"/>
<rect x="897.5" y="613.5" width="2" height="10" stroke="#f00"/>
<line x1="900.5" y1="608" x2="900.5" y2="612" stroke="#f00"/>
<line x1="900.5" y1="619" x2="900.5" y2="621" stroke="#f00"/>
<rect x="899.5" y="612.5" width="2" height="6" stroke="#f00"/>
<line x1="903.5" y1="614" x2="903.5" y2="616" stroke="#f00"/>
<line x1="903.5" y1="621" x2="903.5" y2="629" stroke="#f00"/>
<rect x="902.5" y="616.5" width="2" height="4" stroke="#f00"/>
<rect x="904.5" y="592.5" width="2" height="28" stroke="#000"/>
<rect x="907.5" y="577.5" width="2" height="15" stroke="#000"/>
<line x1="910.5" y1="569" x2="910.5" y2="575" stroke="#000"/>
<line x1="910.5" y1="591" x2="910.5" y2="597" stroke="#000"/>
<rect x="909.5" y="575.5" width="2" height="15" stroke="#000"/>
<line x1="913.5" y1="569" x2="913.5" y2="575" stroke="#f00"/>
<line x1="913.5" y1="596" x2="913.5" y2="598" stroke="#f00"/>
<rect x="912.5" y="575.5" width="2" height="20" stroke="#f00"/>
<rect x="914.5" y="581.5" width="2" height="16" stroke="#f00"/>
<rect x="917.5" y="594.5" width="2" height="13" stroke="#f00"/>
<line x1="920.5" y1="594" x2="920.5" y2="601" stroke="#f00"/>
<line x1="920.5" y1="613" x2="920.5" y2="615" stroke="#f00"/>
<rect x="919.5" y="601.5" width="2" height="11" stroke="#f00"/>
<rect x="922.5" y="612.5" width="2" height="37" stroke="#f00"/>
<line x1="925.5" y1="611" x2="925.5" y2="616" stroke="#000"/>
<line x1="925.5" y1="627" x2="925.5" y2="646" stroke="#000"/>
<rect x="924.5" y="616.5" width="2" height="10" stroke="#000"/>
<rect x="927.5" y="617.5" width="2" height="20" stroke="#f00"/>
<rect x="929.5" y="637.5" width="2" height="8" stroke="#f00"/>
<rect x="932.5" y="641.5" width="2" height="8" stroke="#f00"/>
<line x1="935.5" y1="643" x2="935.5" y2="645" stroke="#000"/>
<line x1="935.5" y1="650" x2="935.5" y2="661" stroke="#000"/>
<rect x="934.5" y="645.5" width="2" height="4" stroke="#000"/>
<line x1="938.5" y1="636" x2="938.5" y2="638" stroke="#f00"/>
<line x1="938.5" y1="646" x2="938.5" y2="648" stroke="#f00"/>
<rect x="937.5" y="638.5" width="2" height="7" stroke="#f00"/>
<rect x="939.5" y="648.5" width="2" height="13" stroke="#f00"/>
<line x1="943.5" y1="659" x2="943.5" y2="661" stroke="#f00"/>
<line x1="943.5" y1="680" x2="943.5" y2="686" stroke="#f00"/>
<rect x="942.5" y="661.5" width="2" height="18" stroke="#f00"/>
<line x1="945.5" y1="671" x2="945.5" y2="677" stroke="#000"/>
<line x1="945.5" y1="680" x2="945.5" y2="691" stroke="#000"/>
<rect x="944.5" y="677.5" width="2" height="2" stroke="#000"/>
<rect x="947.5" y="677.5" width="2" height="7" stroke="#f00"/>
<line x1="950.5" y1="682" x2="950.5" y2="684" stroke="#f00"/>
<line x1="950.5" y1="697" x2="950.5" y2="700" stroke="#f00"/>
<rect x="949.5" y="684.5" width="2" height="12" stroke="#f00"/>
<line x1="953.5" y1="677" x2="953.5" y2="679" stroke="#000"/>
<line x1="953.5" y1="697" x2="953.5" y2="700" stroke="#000"/>
<rect x="952.5" y="679.5" width="2" height="17" stroke="#000"/>
<line x1="955.5" y1="676" x2="955.5" y2="680" stroke="#f00"/>
<line x1="955.5" y1="688" x2="955.5" y2="690" stroke="#f00"/>
<rect x="954.5" y="680.5" width="2" height="7" stroke="#f00"/>
<rect x="957.5" y="684.5" width="2" height="3" stroke="#000"/>
<rect x="959.5" y="681.5" width="2" height="2" stroke="#f00"/>
<line x1="963.5" y1="667" x2="963.5" y2="670" stroke="#f00"/>
<line x1="963.5" y1="682" x2="963.5" y2="684" stroke="#f00"/>
<rect x="962.5" y="670.5" width="2" height="11" stroke="#f00"/>
<line x1="965.5" y1="679" x2="965.5" y2="680" stroke="#000"/>
<line x1="965.5" y1="682" x2="965.5" y2="689" stroke="#000"/>
<rect x="964.5" y="680.5" width="2" height="1" stroke="#000"/>
<line x1="968.5" y1="677" x2="968.5" y2="679" stroke="#000"/>
<line x1="968.5" y1="682" x2="968.5" y2="684" stroke="#000"/>
<rect x="967.5" y="679.5" width="2" height="2" stroke="#000"/>
<line x1="970.5" y1="675" x2="970.5" y2="679" stroke="#f00"/>
<line x1="970.5" y1="682" x2="970.5" y2="684" stroke="#f00"/>
<rect x="969.5" y="679.5" width="2" height="2" stroke="#f00"/>
<line x1="973.5" y1="678" x2="973.5" y2="680" stroke="#f00"/>
<line x1="973.5" y1="682" x2="973.5" y2="685" stroke="#f00"/>
<rect x="972.5" y="680.5" width="2" height="1" stroke="#f00"/>
<line x1="977.5" y1="705" x2="977.5" y2="712" stroke="#f00"/>
<line x1="977.5" y1="715" x2="977.5" y2="716" stroke="#f00"/>
<rect x="976.5" y="712.5" width="2" height="2" stroke="#f00"/>
<line x1="979.5" y1="705" x2="979.5" y2="713" stroke="#f00"/>
<line x1="979.5" y1="724" x2="979.5" y2="725" stroke="#f00"/>
<rect x="978.5" y="713.5" width="2" height="10" stroke="#f00"/>
<line x1="982.5" y1="722" x2="982.5" y2="723" stroke="#f00"/>
<line x1="982.5" y1="742" x2="982.5" y2="744" stroke="#f00"/>
<rect x="981.5" y="723.5" width="2" height="18" stroke="#f00"/>
<line x1="984.5" y1="719" x2="984.5" y2="720" stroke="#000"/>
<line x1="984.5" y1="741" x2="984.5" y2="742" stroke="#000"/>
<rect x="983.5" y="720.5" width="2" height="20" stroke="#000"/>
<rect x="986.5" y="721.5" width="2" height="8" stroke="#f00"/>
<line x1="989.5" y1="723" x2="989.5" y2="725" stroke="#000"/>
<line x1="989.5" y1="732" x2="989.5" y2="737" stroke="#000"/>
<rect x="988.5" y="725.5" width="2" height="6" stroke="#000"/>
<rect x="991.5" y="725.5" width="2" height="3" stroke="#f00"/>
<rect x="993.5" y="727.5" width="2" height="4" stroke="#f00"/>
<rect x="996.5" y="728.5" width="2" height="3" stroke="#f00"/>
<line x1="999.5" y1="730" x2="999.5" y2="732" stroke="#f00"/>
<line x1="999.5" y1="766" x2="999.5" y2="767" stroke="#f00"/>
<rect x="998.5" y="732.5" width="2" height="33" stroke="#f00"/>
<line x1="1002.5" y1="754" x2="1002.5" y2="763" stroke="#000"/>
<line x1="1002.5" y1="766" x2="1002.5" y2="769" stroke="#000"/>
<rect x="1001.5" y="763.5" width="2" height="2" stroke="#000"/>
<rect x="1003.5" y="763.5" width="2" height="6" stroke="#f00"/>
<line x1="1007.5" y1="766" x2="1007.5" y2="767" stroke="#000"/>
<line x1="1007.5" y1="770" x2="1007.5" y2="777" stroke="#000"/>
<rect x="1006.5" y="767.5" width="2" height="2" stroke="#000"/>
<line x1="1009.5" y1="765" x2="1009.5" y2="768" stroke="#f00"/>
<line x1="1009.5" y1="776" x2="1009.5" y2="777" stroke="#f00"/>
<rect x="1008.5" y="768.5" width="2" height="7" stroke="#f00"/>
<line x1="1012.5" y1="773" x2="1012.5" y2="774" stroke="#f00"/>
<line x1="1012.5" y1="780" x2="1012.5" y2="783" stroke="#f00"/>
<rect x="1011.5" y="774.5" width="2" height="5" stroke="#f00"/>
<line x1="1014.5" y1="752" x2="1014.5" y2="754" stroke="#000"/>
<line x1="1014.5" y1="767" x2="1014.5" y2="770" stroke="#000"/>
<rect x="1013.5" y="754.5" width="2" height="12" stroke="#000"/>
<line x1="1017.5" y1="747" x2="1017.5" y2="751" stroke="#000"/>
<line x1="1017.5" y1="755" x2="1017.5" y2="756" stroke="#000"/>
<rect x="1016.5" y="751.5" width="2" height="3" stroke="#000"/>
<line x1="1019.5" y1="749" x2="1019.5" y2="750" stroke="#f00"/>
<line x1="1019.5" y1="754" x2="1019.5" y2="755" stroke="#f00"/>
<rect x="1018.5" y="750.5" width="2" height="3" stroke="#f00"/>
<rect x="1021.5" y="752.5" width="2" height="5" stroke="#f00"/>
<line x1="1024.5" y1="770" x2="1024.5" y2="771" stroke="#f00"/>
<line x1="1024.5" y1="774" x2="1024.5" y2="778" stroke="#f00"/>
<rect x="1023.5" y="771.5" width="2" height="2" stroke="#f00"/>
<line x1="1027.5" y1="765" x2="1027.5" y2="772" stroke="#000"/>
<line x1="1027.5" y1="774" x2="1027.5" y2="775" stroke="#000"/>
<rect x="1026.5" y="772.5" width="2" height="1" stroke="#000"/>
<rect x="1028.5" y="771.5" width="2" height="5" stroke="#f00"/>
<line x1="1032.5" y1="771" x2="1032.5" y2="774" stroke="#000"/>
<rect x="1031.5" y="774.5" width="2" height="2" stroke="#000"/>
<line x1="1034.5" y1="758" x2="1034.5" y2="760" stroke="#000"/>
<line x1="1034.5" y1="769" x2="1034.5" y2="771" stroke="#000"/>
<rect x="1033.5" y="760.5" width="2" height="8" stroke="#000"/>
<rect x="1036.5" y="746.5" width="2" height="14" stroke="#000"/>
<line x1="1039.5" y1="737" x2="1039.5" y2="746" stroke="#f00"/>
<line x1="1039.5" y1="751" x2="1039.5" y2="752" stroke="#f00"/>
<rect x="1038.5" y="746.5" width="2" height="4" stroke="#f00"/>
<rect x="1041.5" y="749.5" width="2" height="4" stroke="#f00"/>
<rect x="1043.5" y="752.5" width="2" height="9" stroke="#f00"/>
<line x1="1047.5" y1="753" x2="1047.5" y2="754" stroke="#000"/>
<line x1="1047.5" y1="761" x2="1047.5" y2="764" stroke="#000"/>
<rect x="1046.5" y="754.5" width="2" height="6" stroke="#000"/>
<rect x="1048.5" y="748.5" width="2" height="12" stroke="#000"/>
<line x1="1052.5" y1="745" x2="1052.5" y2="750" stroke="#f00"/>
<line x1="1052.5" y1="753" x2="1052.5" y2="754" stroke="#f00"/>
<rect x="1051.5" y="750.5" width="2" height="2" stroke="#f00"/>
<rect x="1053.5" y="750.5" width="2" height="8" stroke="#f00"/>
<rect x="1056.5" y="757.5" width="2" height="1" stroke="#000"/>
<line x1="1059.5" y1="757" x2="1059.5" y2="758" stroke="#f00"/>
<line x1="1059.5" y1="763" x2="1059.5" y2="766" stroke="#f00"/>
<rect x="1058.5" y="758.5" width="2" height="4" stroke="#f00"/>
<rect x="1061.5" y="760.5" width="2" height="5" stroke="#f00"/>
<rect x="1063.5" y="762.5" width="2" height="10" stroke="#f00"/>
<rect x="1066.5" y="768.5" width="2" height="6" stroke="#f00"/>
<line x1="1069.5" y1="759" x2="1069.5" y2="773" stroke="#000"/>
<line x1="1069.5" y1="776" x2="1069.5" y2="777" stroke="#000"/>
<rect x="1068.5" y="773.5" width="2" height="2" stroke="#000"/>
<rect x="1070.5" y="773.5" width="2" height="2" stroke="#f00"/>
<line x1="1073.5" y1="774" x2="1073.5" y2="777" stroke="#f00"/>
<line x1="1073.5" y1="783" x2="1073.5" y2="784" stroke="#f00"/>
<rect x="1072.5" y="777.5" width="2" height="5" stroke="#f00"/>
<rect x="1075.5" y="782.5" width="2" height="9" stroke="#f00"/>
<rect x="1077.5" y="791.5" width="2" height="11" stroke="#f00"/>
<line x1="1081.5" y1="798" x2="1081.5" y2="799" stroke="#000"/>
<line x1="1081.5" y1="804" x2="1081.5" y2="808" stroke="#000"/>
<rect x="1080.5" y="799.5" width="2" height="4" stroke="#000"/>
<rect x="1082.5" y="798.5" width="2" height="15" stroke="#f00"/>
<rect x="1085.5" y="810.5" width="2" height="8" stroke="#f00"/>
<line x1="1088.5" y1="816" x2="1088.5" y2="818" stroke="#f00"/>
<line x1="1088.5" y1="827" x2="1088.5" y2="830" stroke="#f00"/>
<rect x="1087.5" y="818.5" width="2" height="8" stroke="#f00"/>
<line x1="1091.5" y1="812" x2="1091.5" y2="818" stroke="#000"/>
<line x1="1091.5" y1="827" x2="1091.5" y2="828" stroke="#000"/>
<rect x="1090.5" y="818.5" width="2" height="8" stroke="#000"/>
<line x1="1093.5" y1="814" x2="1093.5" y2="817" stroke="#f00"/>
<line x1="1093.5" y1="821" x2="1093.5" y2="822" stroke="#f00"/>
<rect x="1092.5" y="817.5" width="2" height="3" stroke="#f00"/>
<line x1="1096.5" y1="810" x2="1096.5" y2="811" stroke="#000"/>
<line x1="1096.5" y1="821" x2="1096.5" y2="822" stroke="#000"/>
<rect x="1095.5" y="811.5" width="2" height="9" stroke="#000"/>
<rect x="1097.5" y="814.5" width="2" height="4" stroke="#f00"/>
<line x1="1101.5" y1="816" x2="1101.5" y2="817" stroke="#000"/>
<line x1="1101.5" y1="819" x2="1101.5" y2="823" stroke="#000"/>
<rect x="1100.5" y="817.5" width="2" height="1" stroke="#000"/>
<line x1="1103.5" y1="812" x2="1103.5" y2="816" stroke="#f00"/>
<line x1="1103.5" y1="822" x2="1103.5" y2="823" stroke="#f00"/>
<rect x="1102.5" y="816.5" width="2" height="5" stroke="#f00"/>
<rect x="1105.5" y="816.5" width="2" height="3" stroke="#000"/>
<rect x="1107.5" y="815.5" width="2" height="1" stroke="#000"/>
<rect x="1110.5" y="814.5" width="2" height="1" stroke="#000"/>
<rect x="1112.5" y="804.5" width="2" height="10" stroke="#000"/>
<line x1="1116.5" y1="802" x2="1116.5" y2="804" stroke="#f00"/>
<line x1="1116.5" y1="807" x2="1116.5" y2="808" stroke="#f00"/>
<rect x="1115.5" y="804.5" width="2" height="2" stroke="#f00"/>
<line x1="1118.5" y1="805" x2="1118.5" y2="806" stroke="#f00"/>
<line x1="1118.5" y1="811" x2="1118.5" y2="812" stroke="#f00"/>
<rect x="1117.5" y="806.5" width="2" height="4" stroke="#f00"/>
<rect x="1120.5" y="807.5" width="2" height="3" stroke="#000"/>
<rect x="1122.5" y="798.5" width="2" height="1" stroke="#000"/>
<line x1="1126.5" y1="791" x2="1126.5" y2="795" stroke="#000"/>
<line x1="1126.5" y1="799" x2="1126.5" y2="800" stroke="#000"/>
<rect x="1125.5" y="795.5" width="2" height="3" stroke="#000"/>
<rect x="1127.5" y="793.5" width="2" height="17" stroke="#f00"/>
<rect x="1130.5" y="810.5" width="2" height="8" stroke="#f00"/>
<rect x="1132.5" y="816.5" width="2" height="3" stroke="#000"/>
<rect x="1135.5" y="818.5" width="2" height="5" stroke="#f00"/>
<line x1="1138.5" y1="821" x2="1138.5" y2="822" stroke="#f00"/>
<line x1="1138.5" y1="830" x2="1138.5" y2="838" stroke="#f00"/>
<rect x="1137.5" y="822.5" width="2" height="7" stroke="#f00"/>
<line x1="1141.5" y1="822" x2="1141.5" y2="825" stroke="#000"/>
<line x1="1141.5" y1="830" x2="1141.5" y2="831" stroke="#000"/>
<rect x="1140.5" y="825.5" width="2" height="4" stroke="#000"/>
<rect x="1142.5" y="825.5" width="2" height="3" stroke="#000"/>
<line x1="1146.5" y1="813" x2="1146.5" y2="815" stroke="#000"/>
<line x1="1146.5" y1="830" x2="1146.5" y2="831" stroke="#000"/>
<rect x="1145.5" y="815.5" width="2" height="14" stroke="#000"/>
<rect x="1147.5" y="816.5" width="2" height="11" stroke="#f00"/>
<line x1="1151.5" y1="820" x2="1151.5" y2="824" stroke="#000"/>
<line x1="1151.5" y1="829" x2="1151.5" y2="831" stroke="#000"/>
<rect x="1150.5" y="824.5" width="2" height="4" stroke="#000"/>
<rect x="1152.5" y="822.5" width="2" height="2" stroke="#000"/>
<rect x="1155.5" y="822.5" width="2" height="1" stroke="#000"/>
<line x1="1158.5" y1="806" x2="1158.5" y2="810" stroke="#000"/>
<line x1="1158.5" y1="823" x2="1158.5" y2="824" stroke="#000"/>
<rect x="1157.5" y="810.5" width="2" height="12" stroke="#000"/>
<line x1="1161.5" y1="807" x2="1161.5" y2="809" stroke="#f00"/>
<line x1="1161.5" y1="814" x2="1161.5" y2="815" stroke="#f00"/>
<rect x="1160.5" y="809.5" width="2" height="4" stroke="#f00"/>
<line x1="1163.5" y1="812" x2="1163.5" y2="813" stroke="#f00"/>
<line x1="1163.5" y1="816" x2="1163.5" y2="821" stroke="#f00"/>
<rect x="1162.5" y="813.5" width="2" height="2" stroke="#f00"/>
<rect x="1165.5" y="814.5" width="2" height="2" stroke="#000"/>
<rect x="1167.5" y="802.5" width="2" height="14" stroke="#000"/>
<line x1="1171.5" y1="800" x2="1171.5" y2="802" stroke="#f00"/>
<line x1="1171.5" y1="807" x2="1171.5" y2="808" stroke="#f00"/>
<rect x="1170.5" y="802.5" width="2" height="4" stroke="#f00"/>
<rect x="1172.5" y="809.5" width="2" height="1" stroke="#000"/>
<line x1="1176.5" y1="807" x2="1176.5" y2="810" stroke="#f00"/>
<line x1="1176.5" y1="813" x2="1176.5" y2="814" stroke="#f00"/>
<rect x="1175.5" y="810.5" width="2" height="2" stroke="#f00"/>
<rect x="1177.5" y="812.5" width="2" height="5" stroke="#f00"/>
<rect x="1180.5" y="814.5" width="2" height="2" stroke="#000"/>
<rect x="1182.5" y="814.5" width="2" height="1" stroke="#f00"/>
<rect x="1185.5" y="811.5" width="2" height="4" stroke="#000"/>
<rect x="1187.5" y="811.5" width="2" height="3" stroke="#f00"/>
<rect x="1190.5" y="814.5" width="2" height="1" stroke="#f00"/>
<rect x="1192.5" y="815.5" width="2" height="12" stroke="#f00"/>
<line x1="1196.5" y1="822" x2="1196.5" y2="823" stroke="#000"/>
<line x1="1196.5" y1="828" x2="1196.5" y2="830" stroke="#000"/>
<rect x="1195.5" y="823.5" width="2" height="4" stroke="#000"/>
<line x1="1198.5" y1="815" x2="1198.5" y2="823" stroke="#000"/>
<line x1="1198.5" y1="828" x2="1198.5" y2="829" stroke="#000"/>
<rect x="1197.5" y="823.5" width="2" height="4" stroke="#000"/>
<line x1="1201.5" y1="820" x2="1201.5" y2="823" stroke="#f00"/>
<line x1="1201.5" y1="825" x2="1201.5" y2="826" stroke="#f00"/>
<rect x="1200.5" y="823.5" width="2" height="1" stroke="#f00"/>
<rect x="1202.5" y="823.5" width="2" height="2" stroke="#f00"/>
<rect x="1205.5" y="825.5" width="2" height="2" stroke="#f00"/>
<rect x="1207.5" y="826.5" width="2" height="1" stroke="#000"/>
<rect x="1210.5" y="825.5" width="2" height="2" stroke="#f00"/>
<rect x="1212.5" y="826.5" width="2" height="1" stroke="#000"/>
<rect x="1215.5" y="826.5" width="2" height="1" stroke="#f00"/>
<rect x="1217.5" y="826.5" width="2" height="1" stroke="#f00"/>
<rect x="1220.5" y="826.5" width="2" height="2" stroke="#f00"/>
<rect x="1222.5" y="828.5" width="2" height="6" stroke="#f00"/>
<rect x="1225.5" y="833.5" width="2" height="1" stroke="#000"/>
<rect x="1228.5" y="832.5" width="2" height="2" stroke="#000"/>
<rect x="1230.5" y="831.5" width="2" height="2" stroke="#000"/>
<rect x="1233.5" y="829.5" width="2" height="2" stroke="#000"/>
<rect x="1235.5" y="823.5" width="2" height="1" stroke="#f00"/>
<rect x="1238.5" y="820.5" width="2" height="4" stroke="#000"/>
<line x1="1241.5" y1="818" x2="1241.5" y2="820" stroke="#f00"/>
<line x1="1241.5" y1="823" x2="1241.5" y2="824" stroke="#f00"/>
<rect x="1240.5" y="820.5" width="2" height="2" stroke="#f00"/>
<rect x="1243.5" y="822.5" width="2" height="3" stroke="#f00"/>
<rect x="1245.5" y="826.5" width="2" height="2" stroke="#f00"/>
<line x1="1249.5" y1="828" x2="1249.5" y2="829" stroke="#000"/>
<line x1="1249.5" y1="831" x2="1249.5" y2="832" stroke="#000"/>
<rect x="1248.5" y="829.5" width="2" height="1" stroke="#000"/>
<rect x="1250.5" y="830.5" width="2" height="3" stroke="#f00"/>
<rect x="1253.5" y="833.5" width="2" height="15" stroke="#f00"/>
<line x1="1256.5" y1="845" x2="1256.5" y2="846" stroke="#000"/>
<line x1="1256.5" y1="849" x2="1256.5" y2="852" stroke="#000"/>
<rect x="1255.5" y="846.5" width="2" height="2" stroke="#000"/>
<line x1="1259.5" y1="844" x2="1259.5" y2="846" stroke="#f00"/>
<line x1="1259.5" y1="850" x2="1259.5" y2="851" stroke="#f00"/>
<rect x="1258.5" y="846.5" width="2" height="3" stroke="#f00"/>
<rect x="1260.5" y="848.5" width="2" height="15" stroke="#f00"/>
<line x1="1264.5" y1="861" x2="1264.5" y2="862" stroke="#f00"/>
<line x1="1264.5" y1="871" x2="1264.5" y2="873" stroke="#f00"/>
<rect x="1263.5" y="862.5" width="2" height="8" stroke="#f00"/>
<rect x="1265.5" y="866.5" width="2" height="3" stroke="#000"/>
<rect x="1268.5" y="866.5" width="2" height="2" stroke="#f00"/>
<rect x="1270.5" y="868.5" width="2" height="3" stroke="#f00"/>
<rect x="1273.5" y="873.5" width="2" height="5" stroke="#f00"/>
<rect x="1275.5" y="873.5" width="2" height="5" stroke="#000"/>
<line x1="1279.5" y1="862" x2="1279.5" y2="866" stroke="#000"/>
<line x1="1279.5" y1="874" x2="1279.5" y2="875" stroke="#000"/>
<rect x="1278.5" y="866.5" width="2" height="7" stroke="#000"/>
<line x1="1281.5" y1="863" x2="1281.5" y2="864" stroke="#f00"/>
<line x1="1281.5" y1="868" x2="1281.5" y2="869" stroke="#f00"/>
<rect x="1280.5" y="864.5" width="2" height="3" stroke="#f00"/>
<rect x="1283.5" y="866.5" width="2" height="5" stroke="#f00"/>
<rect x="1285.5" y="866.5" width="2" height="7" stroke="#f00"/>
<rect x="1288.5" y="870.5" width="2" height="3" stroke="#000"/>
<rect x="1290.5" y="872.5" width="2" height="5" stroke="#f00"/>
<rect x="1293.5" y="876.5" width="2" height="1" stroke="#000"/>
<line x1="1296.5" y1="885" x2="1296.5" y2="886" stroke="#f00"/>
<line x1="1296.5" y1="890" x2="1296.5" y2="891" stroke="#f00"/>
<rect x="1295.5" y="886.5" width="2" height="3" stroke="#f00"/>
<rect x="1298.5" y="886.5" width="2" height="2" stroke="#f00"/>
<rect x="1300.5" y="886.5" width="2" height="2" stroke="#f00"/>
<rect x="1303.5" y="886.5" width="2" height="4" stroke="#000"/>
<rect x="1305.5" y="887.5" width="2" height="2" stroke="#000"/>
<rect x="1308.5" y="888.5" width="2" height="2" stroke="#f00"/>
<line x1="1311.5" y1="874" x2="1311.5" y2="878" stroke="#000"/>
<line x1="1311.5" y1="884" x2="1311.5" y2="885" stroke="#000"/>
<rect x="1310.5" y="878.5" width="2" height="5" stroke="#000"/>
<rect x="1313.5" y="876.5" width="2" height="1" stroke="#f00"/>
<line x1="1316.5" y1="875" x2="1316.5" y2="877" stroke="#f00"/>
<rect x="1315.5" y="873.5" width="2" height="1" stroke="#f00"/>
<line x1="1319.5" y1="868" x2="1319.5" y2="870" stroke="#000"/>
<line x1="1319.5" y1="876" x2="1319.5" y2="877" stroke="#000"/>
<rect x="1318.5" y="870.5" width="2" height="5" stroke="#000"/>
<line x1="1321.5" y1="869" x2="1321.5" y2="871" stroke="#f00"/>
<line x1="1321.5" y1="873" x2="1321.5" y2="875" stroke="#f00"/>
<rect x="1320.5" y="871.5" width="2" height="1" stroke="#f00"/>
<line x1="1324.5" y1="874" x2="1324.5" y2="875" stroke="#f00"/>
<line x1="1324.5" y1="877" x2="1324.5" y2="879" stroke="#f00"/>
<rect x="1323.5" y="875.5" width="2" height="1" stroke="#f00"/>
<rect x="1325.5" y="868.5" width="2" height="12" stroke="#000"/>
<rect x="1328.5" y="868.5" width="2" height="3" stroke="#f00"/>
<rect x="1330.5" y="870.5" width="2" height="3" stroke="#f00"/>
<line x1="1334.5" y1="854" x2="1334.5" y2="856" stroke="#f00"/>
<line x1="1334.5" y1="859" x2="1334.5" y2="860" stroke="#f00"/>
<rect x="1333.5" y="856.5" width="2" height="2" stroke="#f00"/>
<line x1="1336.5" y1="851" x2="1336.5" y2="853" stroke="#000"/>
<line x1="1336.5" y1="859" x2="1336.5" y2="860" stroke="#000"/>
<rect x="1335.5" y="853.5" width="2" height="5" stroke="#000"/>
<rect x="1338.5" y="853.5" width="2" height="3" stroke="#f00"/>
<rect x="1340.5" y="856.5" width="2" height="13" stroke="#f00"/>
<rect x="1343.5" y="867.5" width="2" height="2" stroke="#000"/>
<rect x="1345.5" y="870.5" width="2" height="5" stroke="#000"/>
<rect x="1348.5" y="870.5" width="2" height="2" stroke="#f00"/>
<rect x="1350.5" y="871.5" width="2" height="1" stroke="#000"/>
<rect x="1353.5" y="872.5" width="2" height="1" stroke="#000"/>
<rect x="1355.5" y="871.5" width="2" height="2" stroke="#f00"/>
<rect x="1358.5" y="873.5" width="2" height="1" stroke="#000"/>
<line x1="1361.5" y1="870" x2="1361.5" y2="871" stroke="#000"/>
<line x1="1361.5" y1="874" x2="1361.5" y2="876" stroke="#000"/>
<rect x="1360.5" y="871.5" width="2" height="2" stroke="#000"/>
<rect x="1363.5" y="870.5" width="2" height="1" stroke="#000"/>
<rect x="1365.5" y="869.5" width="2" height="3" stroke="#000"/>
<rect x="1368.5" y="868.5" width="2" height="1" stroke="#f00"/>
<rect x="1370.5" y="871.5" width="2" height="3" stroke="#f00"/>
<rect x="1373.5" y="872.5" width="2" height="1" stroke="#000"/>
<rect x="1375.5" y="871.5" width="2" height="2" stroke="#000"/>
<rect x="1378.5" y="870.5" width="2" height="3" stroke="#f00"/>
<rect x="1380.5" y="870.5" width="2" height="4" stroke="#000"/>
<rect x="1383.5" y="867.5" width="2" height="1" stroke="#000"/>
<rect x="1385.5" y="866.5" width="2" height="1" stroke="#f00"/>
<rect x="1388.5" y="868.5" width="2" height="2" stroke="#000"/>
<rect x="1390.5" y="868.5" width="2" height="1" stroke="#f00"/>
<line x1="1394.5" y1="846" x2="1394.5" y2="854" stroke="#000"/>
<line x1="1394.5" y1="869" x2="1394.5" y2="870" stroke="#000"/>
<rect x="1393.5" y="854.5" width="2" height="14" stroke="#000"/>
<line x1="1396.5" y1="844" x2="1396.5" y2="846" stroke="#f00"/>
<line x1="1396.5" y1="850" x2="1396.5" y2="851" stroke="#f00"/>
<rect x="1395.5" y="846.5" width="2" height="3" stroke="#f00"/>
<rect x="1398.5" y="844.5" width="2" height="2" stroke="#f00"/>
<rect x="1400.5" y="844.5" width="2" height="8" stroke="#f00"/>
<rect x="1403.5" y="849.5" width="2" height="2" stroke="#000"/>
<rect x="1405.5" y="847.5" width="2" height="2" stroke="#f00"/>
<rect x="1408.5" y="837.5" width="2" height="7" stroke="#000"/>
<rect x="1410.5" y="834.5" width="2" height="3" stroke="#000"/>
<line x1="1414.5" y1="827" x2="1414.5" y2="830" stroke="#000"/>
<line x1="1414.5" y1="838" x2="1414.5" y2="839" stroke="#000"/>
<rect x="1413.5" y="830.5" width="2" height="7" stroke="#000"/>
<rect x="1415.5" y="829.5" width="2" height="6" stroke="#f00"/>
<rect x="1418.5" y="832.5" width="2" height="2" stroke="#f00"/>
<line x1="1421.5" y1="839" x2="1421.5" y2="841" stroke="#000"/>
<line x1="1421.5" y1="844" x2="1421.5" y2="845" stroke="#000"/>
<rect x="1420.5" y="841.5" width="2" height="2" stroke="#000"/>
<rect x="1423.5" y="841.5" width="2" height="1" stroke="#f00"/>
<rect x="1425.5" y="841.5" width="2" height="2" stroke="#f00"/>
<rect x="1428.5" y="840.5" width="2" height="1" stroke="#000"/>
<rect x="1430.5" y="835.5" width="2" height="6" stroke="#000"/>
<rect x="1433.5" y="838.5" width="2" height="2" stroke="#f00"/>
<rect x="1435.5" y="824.5" width="2" height="16" stroke="#000"/>
<line x1="1439.5" y1="818" x2="1439.5" y2="821" stroke="#000"/>
<line x1="1439.5" y1="828" x2="1439.5" y2="829" stroke="#000"/>
<rect x="1438.5" y="821.5" width="2" height="6" stroke="#000"/>
<rect x="1440.5" y="814.5" width="2" height="7" stroke="#000"/>
<rect x="1443.5" y="816.5" width="2" height="2" stroke="#f00"/>
<rect x="1445.5" y="816.5" width="2" height="4" stroke="#f00"/>
<rect x="1448.5" y="819.5" width="2" height="5" stroke="#000"/>
<rect x="1450.5" y="817.5" width="2" height="2" stroke="#f00"/>
<rect x="1453.5" y="818.5" width="2" height="1" stroke="#000"/>
<rect x="1455.5" y="813.5" width="2" height="5" stroke="#000"/>
<rect x="1458.5" y="807.5" width="2" height="4" stroke="#f00"/>
<rect x="1460.5" y="810.5" width="2" height="2" stroke="#000"/>
<rect x="1463.5" y="810.5" width="2" height="2" stroke="#000"/>
<rect x="1465.5" y="810.5" width="2" height="3" stroke="#f00"/>
<rect x="1468.5" y="811.5" width="2" height="2" stroke="#f00"/>
<rect x="1470.5" y="812.5" width="2" height="3" stroke="#f00"/>
<rect x="1473.5" y="811.5" width="2" height="4" stroke="#f00"/>
<rect x="1475.5" y="808.5" width="2" height="7" stroke="#000"/>
<rect x="1478.5" y="809.5" width="2" height="1" stroke="#f00"/>
<rect x="1480.5" y="809.5" width="2" height="1" stroke="#000"/>
<rect x="1483.5" y="809.5" width="2" height="2" stroke="#f00"/>
<rect x="1485.5" y="783.5" width="2" height="28" stroke="#000"/>
<line x1="1489.5" y1="725" x2="1489.5" y2="742" stroke="#000"/>
<line x1="1489.5" y1="784" x2="1489.5" y2="785" stroke="#000"/>
<rect x="1488.5" y="742.5" width="2" height="41" stroke="#000"/>
<line x1="1491.5" y1="735" x2="1491.5" y2="742" stroke="#f00"/>
<line x1="1491.5" y1="758" x2="1491.5" y2="780" stroke="#f00"/>
<rect x="1490.5" y="742.5" width="2" height="15" stroke="#f00"/>
<line x1="1494.5" y1="745" x2="1494.5" y2="750" stroke="#000"/>
<line x1="1494.5" y1="759" x2="1494.5" y2="760" stroke="#000"/>
<rect x="1493.5" y="750.5" width="2" height="8" stroke="#000"/>
<line x1="1496.5" y1="736" x2="1496.5" y2="740" stroke="#f00"/>
<line x1="1496.5" y1="748" x2="1496.5" y2="749" stroke="#f00"/>
<rect x="1495.5" y="740.5" width="2" height="7" stroke="#f00"/>
<line x1="1499.5" y1="746" x2="1499.5" y2="747" stroke="#f00"/>
<line x1="1499.5" y1="753" x2="1499.5" y2="758" stroke="#f00"/>
<rect x="1498.5" y="747.5" width="2" height="5" stroke="#f00"/>
<line x1="1501.5" y1="741" x2="1501.5" y2="750" stroke="#000"/>
<line x1="1501.5" y1="753" x2="1501.5" y2="754" stroke="#000"/>
<rect x="1500.5" y="750.5" width="2" height="2" stroke="#000"/>
<line x1="1504.5" y1="748" x2="1504.5" y2="750" stroke="#f00"/>
<line x1="1504.5" y1="773" x2="1504.5" y2="777" stroke="#f00"/>
<rect x="1503.5" y="750.5" width="2" height="22" stroke="#f00"/>
<line x1="1506.5" y1="764" x2="1506.5" y2="767" stroke="#000"/>
<line x1="1506.5" y1="773" x2="1506.5" y2="777" stroke="#000"/>
<rect x="1505.5" y="767.5" width="2" height="5" stroke="#000"/>
<line x1="1509.5" y1="757" x2="1509.5" y2="768" stroke="#f00"/>
<line x1="1509.5" y1="772" x2="1509.5" y2="778" stroke="#f00"/>
<rect x="1508.5" y="768.5" width="2" height="3" stroke="#f00"/>
<rect x="1510.5" y="764.5" width="2" height="8" stroke="#000"/>
<line x1="1514.5" y1="761" x2="1514.5" y2="763" stroke="#f00"/>
<line x1="1514.5" y1="769" x2="1514.5" y2="770" stroke="#f00"/>
<rect x="1513.5" y="763.5" width="2" height="5" stroke="#f00"/>
<rect x="1515.5" y="760.5" width="2" height="8" stroke="#000"/>
<rect x="1518.5" y="760.5" width="2" height="3" stroke="#f00"/>
<line x1="1521.5" y1="770" x2="1521.5" y2="772" stroke="#000"/>
<line x1="1521.5" y1="775" x2="1521.5" y2="776" stroke="#000"/>
<rect x="1520.5" y="772.5" width="2" height="2" stroke="#000"/>
<line x1="1524.5" y1="768" x2="1524.5" y2="772" stroke="#f00"/>
<line x1="1524.5" y1="776" x2="1524.5" y2="777" stroke="#f00"/>
<rect x="1523.5" y="772.5" width="2" height="3" stroke="#f00"/>
<line x1="1526.5" y1="773" x2="1526.5" y2="774" stroke="#f00"/>
<line x1="1526.5" y1="784" x2="1526.5" y2="788" stroke="#f00"/>
<rect x="1525.5" y="774.5" width="2" height="9" stroke="#f00"/>
<line x1="1529.5" y1="778" x2="1529.5" y2="782" stroke="#000"/>
<line x1="1529.5" y1="784" x2="1529.5" y2="785" stroke="#000"/>
<rect x="1528.5" y="782.5" width="2" height="1" stroke="#000"/>
<line x1="1531.5" y1="781" x2="1531.5" y2="782" stroke="#f00"/>
<line x1="1531.5" y1="787" x2="1531.5" y2="790" stroke="#f00"/>
<rect x="1530.5" y="782.5" width="2" height="4" stroke="#f00"/>
<line x1="1534.5" y1="793" x2="1534.5" y2="795" stroke="#f00"/>
<line x1="1534.5" y1="799" x2="1534.5" y2="801" stroke="#f00"/>
<rect x="1533.5" y="795.5" width="2" height="3" stroke="#f00"/>
<rect x="1535.5" y="782.5" width="2" height="16" stroke="#000"/>
<line x1="1539.5" y1="778" x2="1539.5" y2="782" stroke="#f00"/>
<line x1="1539.5" y1="786" x2="1539.5" y2="787" stroke="#f00"/>
<rect x="1538.5" y="782.5" width="2" height="3" stroke="#f00"/>
<rect x="1540.5" y="783.5" width="2" height="2" stroke="#000"/>
<line x1="1544.5" y1="768" x2="1544.5" y2="772" stroke="#000"/>
<line x1="1544.5" y1="786" x2="1544.5" y2="787" stroke="#000"/>
<rect x="1543.5" y="772.5" width="2" height="13" stroke="#000"/>
<rect x="1545.5" y="776.5" width="2" height="2" stroke="#f00"/>
<line x1="1549.5" y1="772" x2="1549.5" y2="776" stroke="#f00"/>
<line x1="1549.5" y1="780" x2="1549.5" y2="785" stroke="#f00"/>
<rect x="1548.5" y="776.5" width="2" height="3" stroke="#f00"/>
<line x1="1551.5" y1="777" x2="1551.5" y2="778" stroke="#f00"/>
<line x1="1551.5" y1="782" x2="1551.5" y2="786" stroke="#f00"/>
<rect x="1550.5" y="778.5" width="2" height="3" stroke="#f00"/>
<rect x="1553.5" y="779.5" width="2" height="3" stroke="#f00"/>
<line x1="1556.5" y1="770" x2="1556.5" y2="774" stroke="#000"/>
<line x1="1556.5" y1="783" x2="1556.5" y2="784" stroke="#000"/>
<rect x="1555.5" y="774.5" width="2" height="8" stroke="#000"/>
<line x1="1559.5" y1="740" x2="1559.5" y2="745" stroke="#000"/>
<line x1="1559.5" y1="754" x2="1559.5" y2="758" stroke="#000"/>
<rect x="1558.5" y="745.5" width="2" height="8" stroke="#000"/>
<line x1="1561.5" y1="737" x2="1561.5" y2="746" stroke="#f00"/>
<line x1="1561.5" y1="749" x2="1561.5" y2="754" stroke="#f00"/>
<rect x="1560.5" y="746.5" width="2" height="2" stroke="#f00"/>
<line x1="1564.5" y1="716" x2="1564.5" y2="721" stroke="#000"/>
<line x1="1564.5" y1="749" x2="1564.5" y2="750" stroke="#000"/>
<rect x="1563.5" y="721.5" width="2" height="27" stroke="#000"/>
<line x1="1566.5" y1="706" x2="1566.5" y2="721" stroke="#f00"/>
<line x1="1566.5" y1="737" x2="1566.5" y2="738" stroke="#f00"/>
<rect x="1565.5" y="721.5" width="2" height="15" stroke="#f00"/>
<line x1="1569.5" y1="730" x2="1569.5" y2="732" stroke="#f00"/>
<line x1="1569.5" y1="752" x2="1569.5" y2="764" stroke="#f00"/>
<rect x="1568.5" y="732.5" width="2" height="19" stroke="#f00"/>
<line x1="1571.5" y1="728" x2="1571.5" y2="731" stroke="#f00"/>
<line x1="1571.5" y1="740" x2="1571.5" y2="741" stroke="#f00"/>
<rect x="1570.5" y="731.5" width="2" height="8" stroke="#f00"/>
<rect x="1573.5" y="739.5" width="2" height="5" stroke="#f00"/>
<line x1="1576.5" y1="740" x2="1576.5" y2="741" stroke="#f00"/>
<line x1="1576.5" y1="751" x2="1576.5" y2="756" stroke="#f00"/>
<rect x="1575.5" y="741.5" width="2" height="9" stroke="#f00"/>
<line x1="1579.5" y1="746" x2="1579.5" y2="747" stroke="#000"/>
<line x1="1579.5" y1="751" x2="1579.5" y2="756" stroke="#000"/>
<rect x="1578.5" y="747.5" width="2" height="3" stroke="#000"/>
<line x1="1581.5" y1="715" x2="1581.5" y2="720" stroke="#000"/>
<line x1="1581.5" y1="748" x2="1581.5" y2="749" stroke="#000"/>
<rect x="1580.5" y="720.5" width="2" height="27" stroke="#000"/>
<line x1="1584.5" y1="678" x2="1584.5" y2="690" stroke="#000"/>
<line x1="1584.5" y1="700" x2="1584.5" y2="701" stroke="#000"/>
<rect x="1583.5" y="690.5" width="2" height="9" stroke="#000"/>
<line x1="1587.5" y1="682" x2="1587.5" y2="689" stroke="#f00"/>
<line x1="1587.5" y1="694" x2="1587.5" y2="695" stroke="#f00"/>
<rect x="1586.5" y="689.5" width="2" height="4" stroke="#f00"/>
<line x1="1589.5" y1="685" x2="1589.5" y2="690" stroke="#000"/>
<line x1="1589.5" y1="711" x2="1589.5" y2="712" stroke="#000"/>
<rect x="1588.5" y="690.5" width="2" height="20" stroke="#000"/>
<line x1="1592.5" y1="712" x2="1592.5" y2="721" stroke="#f00"/>
<rect x="1591.5" y="679.5" width="2" height="32" stroke="#f00"/>
<rect x="1593.5" y="698.5" width="2" height="15" stroke="#000"/>
<line x1="1597.5" y1="689" x2="1597.5" y2="694" stroke="#f00"/>
<line x1="1597.5" y1="701" x2="1597.5" y2="702" stroke="#f00"/>
<rect x="1596.5" y="694.5" width="2" height="6" stroke="#f00"/>
<line x1="1599.5" y1="698" x2="1599.5" y2="699" stroke="#f00"/>
<line x1="1599.5" y1="721" x2="1599.5" y2="729" stroke="#f00"/>
<rect x="1598.5" y="699.5" width="2" height="21" stroke="#f00"/>
<line x1="1602.5" y1="713" x2="1602.5" y2="714" stroke="#000"/>
<line x1="1602.5" y1="721" x2="1602.5" y2="729" stroke="#000"/>
<rect x="1601.5" y="714.5" width="2" height="6" stroke="#000"/>
<rect x="1603.5" y="706.5" width="2" height="12" stroke="#000"/>
<line x1="1607.5" y1="678" x2="1607.5" y2="693" stroke="#000"/>
<line x1="1607.5" y1="706" x2="1607.5" y2="707" stroke="#000"/>
<rect x="1606.5" y="693.5" width="2" height="12" stroke="#000"/>
<line x1="1609.5" y1="661" x2="1609.5" y2="668" stroke="#000"/>
<line x1="1609.5" y1="695" x2="1609.5" y2="696" stroke="#000"/>
<rect x="1608.5" y="668.5" width="2" height="26" stroke="#000"/>
<line x1="1612.5" y1="640" x2="1612.5" y2="646" stroke="#000"/>
<line x1="1612.5" y1="670" x2="1612.5" y2="671" stroke="#000"/>
<rect x="1611.5" y="646.5" width="2" height="23" stroke="#000"/>
<line x1="1614.5" y1="628" x2="1614.5" y2="629" stroke="#f00"/>
<line x1="1614.5" y1="653" x2="1614.5" y2="660" stroke="#f00"/>
<rect x="1613.5" y="629.5" width="2" height="23" stroke="#f00"/>
<line x1="1617.5" y1="646" x2="1617.5" y2="651" stroke="#f00"/>
<line x1="1617.5" y1="655" x2="1617.5" y2="664" stroke="#f00"/>
<rect x="1616.5" y="651.5" width="2" height="3" stroke="#f00"/>
<line x1="1619.5" y1="652" x2="1619.5" y2="653" stroke="#f00"/>
<line x1="1619.5" y1="657" x2="1619.5" y2="669" stroke="#f00"/>
<rect x="1618.5" y="653.5" width="2" height="3" stroke="#f00"/>
<line x1="1622.5" y1="643" x2="1622.5" y2="646" stroke="#f00"/>
<line x1="1622.5" y1="651" x2="1622.5" y2="652" stroke="#f00"/>
<rect x="1621.5" y="646.5" width="2" height="4" stroke="#f00"/>
<line x1="1624.5" y1="645" x2="1624.5" y2="647" stroke="#f00"/>
<line x1="1624.5" y1="655" x2="1624.5" y2="662" stroke="#f00"/>
<rect x="1623.5" y="647.5" width="2" height="7" stroke="#f00"/>
<rect x="1626.5" y="639.5" width="2" height="14" stroke="#000"/>
<rect x="1628.5" y="640.5" width="2" height="8" stroke="#f00"/>
<line x1="1632.5" y1="634" x2="1632.5" y2="644" stroke="#000"/>
<line x1="1632.5" y1="649" x2="1632.5" y2="650" stroke="#000"/>
<rect x="1631.5" y="644.5" width="2" height="4" stroke="#000"/>
<line x1="1634.5" y1="641" x2="1634.5" y2="643" stroke="#f00"/>
<line x1="1634.5" y1="651" x2="1634.5" y2="652" stroke="#f00"/>
<rect x="1633.5" y="643.5" width="2" height="7" stroke="#f00"/>
<line x1="1637.5" y1="646" x2="1637.5" y2="647" stroke="#f00"/>
<line x1="1637.5" y1="651" x2="1637.5" y2="662" stroke="#f00"/>
<rect x="1636.5" y="647.5" width="2" height="3" stroke="#f00"/>
<line x1="1639.5" y1="641" x2="1639.5" y2="647" stroke="#000"/>
<line x1="1639.5" y1="654" x2="1639.5" y2="655" stroke="#000"/>
<rect x="1638.5" y="647.5" width="2" height="6" stroke="#000"/>
<line x1="1642.5" y1="654" x2="1642.5" y2="659" stroke="#f00"/>
<line x1="1642.5" y1="691" x2="1642.5" y2="692" stroke="#f00"/>
<rect x="1641.5" y="659.5" width="2" height="31" stroke="#f00"/>
</g>
<g shape-rendering="crispEdges">
<rect x="189.5" y="131.5" width="477" height="799" fill="none" stroke="#00ff00"/>
<rect x="1296.5" y="90.5" width="482" height="797" fill="none" stroke="#00ff00"/>
</g>
<g fill="none" shape-rendering="crispEdges">
<line x1="210" y1="130.5" x2="1294" y2="90.5" stroke="#c4c4c4" stroke-dasharray="18 6"/>
<line x1="667" y1="929.5" x2="1761" y2="889.2" stroke="#c4c4c4" stroke-dasharray="18 6"/>
<line x1="665" y1="131" x2="184" y2="932" stroke="#ff6e6e" stroke-dasharray="18 6"/>
<line x1="1777" y1="91" x2="1293" y2="892" stroke="#ff6e6e" stroke-dasharray="18 6"/>
<line x1="1472" y1="738" x2="1701" y2="565.5" stroke="#ff6e6e" stroke-dasharray="4 3"/>
</g>
<g fill="none" shape-rendering="crispEdges">
<line x1="666" y1="131.5" x2="1844" y2="131.5" stroke="#f00" stroke-dasharray="3 3" stroke-dashoffset="5"/>
<line x1="775" y1="393.5" x2="1844" y2="393.5" stroke="#f00" stroke-dasharray="3 3" stroke-dashoffset="0"/>
<line x1="906" y1="569.5" x2="1844" y2="569.5" stroke="#f00" stroke-dasharray="3 3" stroke-dashoffset="0"/>
<line x1="1469" y1="724.5" x2="1562" y2="724.5" stroke="#f00" stroke-dasharray="3 3" stroke-dashoffset="0"/>
<line x1="1555" y1="706.5" x2="1589" y2="706.5" stroke="#f00" stroke-dasharray="3 3" stroke-dashoffset="0"/>
<line x1="1572" y1="679.5" x2="1606" y2="679.5" stroke="#f00" stroke-dasharray="3 3" stroke-dashoffset="0"/>
<line x1="1608" y1="628.5" x2="1642" y2="628.5" stroke="#f00" stroke-dasharray="3 3" stroke-dashoffset="0"/>
<line x1="745" y1="713.5" x2="1843" y2="713.5" stroke="#00ff00" stroke-dasharray="3 3" stroke-dashoffset="0"/>
<line x1="845" y1="701.5" x2="1843" y2="701.5" stroke="#00ff00" stroke-dasharray="3 3" stroke-dashoffset="0"/>
<line x1="1011" y1="888.5" x2="1843" y2="888.5" stroke="#00ff00" stroke-dasharray="3 3" stroke-dashoffset="0"/>
<line x1="4" y1="690.5" x2="1849" y2="690.5" stroke="#00f" stroke-dasharray="3 3" stroke-dashoffset="0"/>
</g>
<g fill="none" stroke="#007800" shape-rendering="crispEdges">
<line x1="186" y1="148.5" x2="1844" y2="86.5" stroke="#007800"/>
<line x1="186" y1="931.5" x2="1844" y2="869.5" stroke="#007800"/>
<line x1="176" y1="811.5" x2="646.5" y2="714.5" stroke="#007800"/>
<line x1="176" y1="934.5" x2="646.5" y2="838.5" stroke="#007800"/>
<line x1="1366" y1="783.5" x2="1611" y2="666" stroke="#007800"/>
<line x1="1366" y1="882.5" x2="1613" y2="762" stroke="#007800"/>
<line x1="1555" y1="731" x2="1645" y2="571" stroke="#007800"/>
<line x1="1555" y1="801" x2="1645" y2="640" stroke="#007800"/>
</g>
<g fill="none" shape-rendering="crispEdges">
<line x1="1472" y1="848.7" x2="1701" y2="675" stroke="#00ff00" stroke-dasharray="3 3"/>
</g>
</g>
<g shape-rendering="crispEdges">
<rect x="0" y="0" width="1912" height="1" fill="#000"/>
<rect x="0" y="0" width="1" height="952" fill="#000"/>
<rect x="1911" y="0" width="1" height="952" fill="#000"/>
<rect x="0" y="951" width="1912" height="1" fill="#000"/>
<rect x="0" y="30" width="1911" height="1" fill="#c0c0c0"/>
<rect x="0" y="15" width="126" height="1" fill="#c0c0c0"/>
<rect x="41" y="1" width="1" height="29" fill="#c0c0c0"/>
<rect x="126" y="1" width="1" height="29" fill="#c0c0c0"/>
<rect x="180" y="1" width="1" height="29" fill="#c0c0c0"/>
<rect x="1742" y="1" width="1" height="29" fill="#c0c0c0"/>
<rect x="1787" y="1" width="1" height="29" fill="#c0c0c0"/>
<rect x="1849" y="1" width="1" height="950" fill="#c0c0c0"/>
<rect x="1" y="936" width="1910" height="1" fill="#c0c0c0"/>
<rect x="1019.5" y="939.5" width="810" height="9" fill="#b4d6fa" stroke="#8cb8ee"/>
<rect x="91" y="937" width="1" height="14" fill="#c0c0c0"/>
<rect x="141" y="937" width="1" height="14" fill="#c0c0c0"/>
<rect x="199" y="937" width="1" height="14" fill="#c0c0c0"/>
<rect x="249" y="937" width="1" height="14" fill="#c0c0c0"/>
<rect x="307" y="937" width="1" height="14" fill="#c0c0c0"/>
<rect x="362" y="937" width="1" height="14" fill="#c0c0c0"/>
<rect x="415" y="937" width="1" height="14" fill="#c0c0c0"/>
<rect x="473" y="937" width="1" height="14" fill="#c0c0c0"/>
<rect x="526" y="937" width="1" height="14" fill="#c0c0c0"/>
<rect x="581" y="937" width="1" height="14" fill="#c0c0c0"/>
<rect x="636" y="937" width="1" height="14" fill="#c0c0c0"/>
<rect x="689" y="937" width="1" height="14" fill="#c0c0c0"/>
<rect x="747" y="937" width="1" height="14" fill="#c0c0c0"/>
<rect x="797" y="937" width="1" height="14" fill="#c0c0c0"/>
<rect x="853" y="937" width="1" height="14" fill="#c0c0c0"/>
<rect x="906" y="937" width="1" height="14" fill="#c0c0c0"/>
<rect x="963" y="937" width="1" height="14" fill="#c0c0c0"/>
<rect x="1016" y="937" width="1" height="14" fill="#c0c0c0"/>
<rect x="1067" y="937" width="1" height="14" fill="#c0c0c0"/>
<rect x="1125" y="937" width="1" height="14" fill="#c0c0c0"/>
<rect x="1175" y="937" width="1" height="14" fill="#c0c0c0"/>
<rect x="1233" y="937" width="1" height="14" fill="#c0c0c0"/>
<rect x="1288" y="937" width="1" height="14" fill="#c0c0c0"/>
<rect x="1331" y="937" width="1" height="14" fill="#c0c0c0"/>
<rect x="1384" y="937" width="1" height="14" fill="#c0c0c0"/>
<rect x="1434" y="937" width="1" height="14" fill="#c0c0c0"/>
<rect x="1487" y="937" width="1" height="14" fill="#c0c0c0"/>
<rect x="1542" y="937" width="1" height="14" fill="#c0c0c0"/>
<rect x="1600" y="937" width="1" height="14" fill="#c0c0c0"/>
<rect x="1650" y="937" width="1" height="14" fill="#c0c0c0"/>
<rect x="1708" y="937" width="1" height="14" fill="#c0c0c0"/>
<rect x="1763" y="937" width="1" height="14" fill="#c0c0c0"/>
<rect x="1819" y="937" width="1" height="14" fill="#c0c0c0"/>
<rect x="1834" y="937" width="1" height="14" fill="#c0c0c0"/>
<rect x="1846" y="77" width="7" height="1" fill="#c0c0c0"/>
<rect x="1846" y="131" width="7" height="1" fill="#c0c0c0"/>
<rect x="1846" y="185" width="7" height="1" fill="#c0c0c0"/>
<rect x="1846" y="239" width="7" height="1" fill="#c0c0c0"/>
<rect x="1846" y="293" width="7" height="1" fill="#c0c0c0"/>
<rect x="1846" y="347" width="7" height="1" fill="#c0c0c0"/>
<rect x="1846" y="401" width="7" height="1" fill="#c0c0c0"/>
<rect x="1846" y="454" width="7" height="1" fill="#c0c0c0"/>
<rect x="1846" y="508" width="7" height="1" fill="#c0c0c0"/>
<rect x="1846" y="562" width="7" height="1" fill="#c0c0c0"/>
<rect x="1846" y="616" width="7" height="1" fill="#c0c0c0"/>
<rect x="1846" y="670" width="7" height="1" fill="#c0c0c0"/>
<rect x="1846" y="724" width="7" height="1" fill="#c0c0c0"/>
<rect x="1846" y="778" width="7" height="1" fill="#c0c0c0"/>
<rect x="1846" y="832" width="7" height="1" fill="#c0c0c0"/>
<rect x="1846" y="885" width="7" height="1" fill="#c0c0c0"/>
<rect x="1850" y="683" width="61" height="14" fill="#0000ff"/>
<rect x="1849" y="690" width="4" height="1" fill="#fff"/>
<polygon points="1640,31 1648,31 1644,35" fill="#22cc22"/>
<polygon points="31,6 38,6 34.5,10" fill="#000"/>
<polygon points="31,21 38,21 34.5,25" fill="#000"/>
<rect x="1902.5" y="47.5" width="9" height="8" fill="#fff" stroke="#b0b0b0"/>
<rect x="1904" y="51" width="6" height="1" fill="#a0a0a0"/>
</g>
<g>
<text x="6" y="13" font-size="12" fill="#000">652</text>
<text x="2" y="28" font-size="12" fill="#000">Tage</text>
<text x="43" y="13" font-size="12" fill="#000">Fr 16.12.2016</text>
<text x="43" y="28" font-size="12" fill="#000">Do 27.06.2019</text>
<text x="153" y="12" font-size="12" text-anchor="middle" fill="#000">LTCUSD</text>
<text x="153" y="27" font-size="12" text-anchor="middle" fill="#000">LTC</text>
<text x="184" y="16" font-size="14" font-weight="bold" fill="#000">LiteCoin</text>
<text x="1764.5" y="12" font-size="12" text-anchor="middle" fill="#000">Indizes</text>
<text x="1764.5" y="27" font-size="12" text-anchor="middle" fill="#000">JFD</text>
<text x="1790" y="12" font-size="12" fill="#000">H: 375.29</text>
<text x="1790" y="27" font-size="12" fill="#000">L: 3.610</text>
<text x="1856" y="12" font-size="12" fill="#000">115.85</text>
<text x="1855" y="27" font-size="12" clip-path="url(#hc)" fill="#000">5214.2/113.59</text>
<text x="1852" y="43" font-size="12" fill="#000">(c)Tai-Pan</text>
<text x="146" y="51" font-size="12" textLength="1480" lengthAdjust="spacing" fill="#000">Haftungsausschluss für Inhalte: Alle Trendkanäle bzw. andere Linien, oder Grafiken hier sind keine Empfehlungen, oder Beratung, sondern die zeigen ausschließlich meine eigene Meinung. Alle Chartdaten sind ohne Gewähr.&#160; www.wikifolio.com/de/de/p/cyberwaehrungen</text>
<text x="1856" y="82" font-size="12" fill="#000">400.00</text>
<text x="1856" y="136" font-size="12" fill="#000">375.00</text>
<text x="1856" y="190" font-size="12" fill="#000">350.00</text>
<text x="1856" y="244" font-size="12" fill="#000">325.00</text>
<text x="1856" y="298" font-size="12" fill="#000">300.00</text>
<text x="1856" y="352" font-size="12" fill="#000">275.00</text>
<text x="1856" y="406" font-size="12" fill="#000">250.00</text>
<text x="1856" y="459" font-size="12" fill="#000">225.00</text>
<text x="1856" y="513" font-size="12" fill="#000">200.00</text>
<text x="1856" y="567" font-size="12" fill="#000">175.00</text>
<text x="1856" y="621" font-size="12" fill="#000">150.00</text>
<text x="1856" y="675" font-size="12" fill="#000">125.00</text>
<text x="1856" y="729" font-size="12" fill="#000">100.00</text>
<text x="1856" y="783" font-size="12" fill="#000">75.00</text>
<text x="1856" y="837" font-size="12" fill="#000">50.00</text>
<text x="1856" y="890" font-size="12" fill="#000">25.000</text>
<text x="1856" y="695" font-size="12" fill="#fff">115.85</text>
<text x="91" y="949" font-size="12" text-anchor="end" fill="#000">02</text>
<text x="94" y="949" font-size="12" fill="#000">17</text>
<text x="141" y="949" font-size="12" text-anchor="end" fill="#000">03</text>
<text x="144" y="949" font-size="12" fill="#000">17</text>
<text x="199" y="949" font-size="12" text-anchor="end" fill="#000">04</text>
<text x="202" y="949" font-size="12" fill="#000">17</text>
<text x="249" y="949" font-size="12" text-anchor="end" fill="#000">05</text>
<text x="252" y="949" font-size="12" fill="#000">17</text>
<text x="307" y="949" font-size="12" text-anchor="end" fill="#000">06</text>
<text x="310" y="949" font-size="12" fill="#000">17</text>
<text x="362" y="949" font-size="12" text-anchor="end" fill="#000">07</text>
<text x="365" y="949" font-size="12" fill="#000">17</text>
<text x="415" y="949" font-size="12" text-anchor="end" fill="#000">08</text>
<text x="418" y="949" font-size="12" fill="#000">17</text>
<text x="473" y="949" font-size="12" text-anchor="end" fill="#000">09</text>
<text x="476" y="949" font-size="12" fill="#000">17</text>
<text x="526" y="949" font-size="12" text-anchor="end" fill="#000">10</text>
<text x="529" y="949" font-size="12" fill="#000">17</text>
<text x="581" y="949" font-size="12" text-anchor="end" fill="#000">11</text>
<text x="584" y="949" font-size="12" fill="#000">17</text>
<text x="636" y="949" font-size="12" text-anchor="end" fill="#000">12</text>
<text x="639" y="949" font-size="12" fill="#000">17</text>
<text x="689" y="949" font-size="12" text-anchor="end" fill="#000">01</text>
<text x="692" y="949" font-size="12" fill="#000">18</text>
<text x="747" y="949" font-size="12" text-anchor="end" fill="#000">02</text>
<text x="750" y="949" font-size="12" fill="#000">18</text>
<text x="797" y="949" font-size="12" text-anchor="end" fill="#000">03</text>
<text x="800" y="949" font-size="12" fill="#000">18</text>
<text x="853" y="949" font-size="12" text-anchor="end" fill="#000">04</text>
<text x="856" y="949" font-size="12" fill="#000">18</text>
<text x="906" y="949" font-size="12" text-anchor="end" fill="#000">05</text>
<text x="909" y="949" font-size="12" fill="#000">18</text>
<text x="963" y="949" font-size="12" text-anchor="end" fill="#000">06</text>
<text x="966" y="949" font-size="12" fill="#000">18</text>
<text x="1016" y="949" font-size="12" text-anchor="end" fill="#000">07</text>
<text x="1019" y="949" font-size="12" fill="#000">18</text>
<text x="1067" y="949" font-size="12" text-anchor="end" fill="#000">08</text>
<text x="1070" y="949" font-size="12" fill="#000">18</text>
<text x="1125" y="949" font-size="12" text-anchor="end" fill="#000">09</text>
<text x="1128" y="949" font-size="12" fill="#000">18</text>
<text x="1175" y="949" font-size="12" text-anchor="end" fill="#000">10</text>
<text x="1178" y="949" font-size="12" fill="#000">18</text>
<text x="1233" y="949" font-size="12" text-anchor="end" fill="#000">11</text>
<text x="1236" y="949" font-size="12" fill="#000">18</text>
<text x="1288" y="949" font-size="12" text-anchor="end" fill="#000">12</text>
<text x="1291" y="949" font-size="12" fill="#000">18</text>
<text x="1331" y="949" font-size="12" text-anchor="end" fill="#000">01</text>
<text x="1334" y="949" font-size="12" fill="#000">19</text>
<text x="1384" y="949" font-size="12" text-anchor="end" fill="#000">02</text>
<text x="1387" y="949" font-size="12" fill="#000">19</text>
<text x="1434" y="949" font-size="12" text-anchor="end" fill="#000">03</text>
<text x="1437" y="949" font-size="12" fill="#000">19</text>
<text x="1487" y="949" font-size="12" text-anchor="end" fill="#000">04</text>
<text x="1490" y="949" font-size="12" fill="#000">19</text>
<text x="1542" y="949" font-size="12" text-anchor="end" fill="#000">05</text>
<text x="1545" y="949" font-size="12" fill="#000">19</text>
<text x="1600" y="949" font-size="12" text-anchor="end" fill="#000">06</text>
<text x="1603" y="949" font-size="12" fill="#000">19</text>
<text x="1650" y="949" font-size="12" text-anchor="end" fill="#000">07</text>
<text x="1653" y="949" font-size="12" fill="#000">19</text>
<text x="1708" y="949" font-size="12" text-anchor="end" fill="#000">08</text>
<text x="1711" y="949" font-size="12" fill="#000">19</text>
<text x="1763" y="949" font-size="12" text-anchor="end" fill="#000">09</text>
<text x="1766" y="949" font-size="12" fill="#000">19</text>
<text x="1819" y="949" font-size="12" text-anchor="end" fill="#000">10</text>
<text x="1822" y="949" font-size="12" fill="#000">19</text>
<text x="1839" y="948" font-size="12" fill="#000">L</text>
<text x="1855" y="949" font-size="12" fill="#000">27.06.19</text>
</g>
</svg></div></body></html>
